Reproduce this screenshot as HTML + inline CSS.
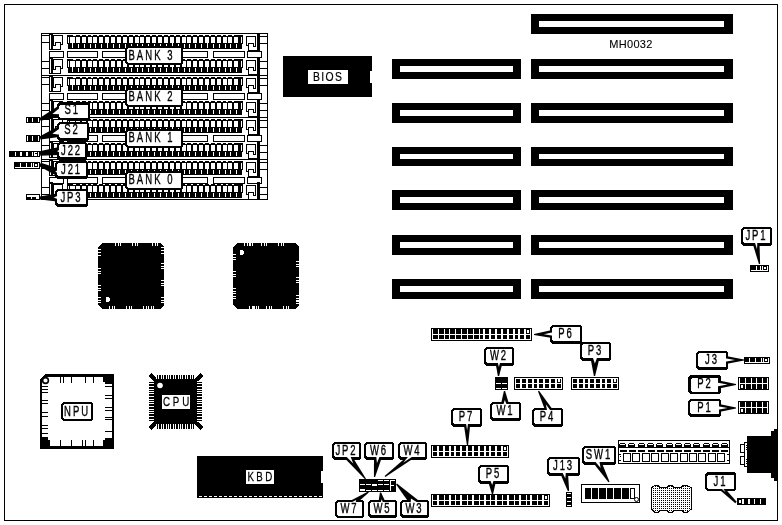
<!DOCTYPE html>
<html><head><meta charset="utf-8"><title>MH0032 motherboard layout</title>
<style>
html,body{margin:0;padding:0;background:#fff;}
body{width:782px;height:525px;overflow:hidden;}
svg{display:block;filter:grayscale(1);}
text{font-family:"Liberation Sans",sans-serif;fill:#000;stroke:#000;}
</style></head><body>
<svg width="782" height="525" viewBox="0 0 782 525" shape-rendering="crispEdges">
<defs><pattern id="dots" x="0" y="0" width="2" height="2" patternUnits="userSpaceOnUse"><rect x="0" y="0" width="2" height="2" fill="#fff"/><rect x="0" y="0" width="1" height="1" fill="#000"/></pattern></defs>
<rect x="0" y="0" width="782" height="525" fill="#fff"/>
<rect x="4" y="4" width="774" height="1" fill="#000"/>
<rect x="4" y="520" width="774" height="1" fill="#000"/>
<rect x="4" y="4" width="1" height="517" fill="#000"/>
<rect x="777" y="4" width="1" height="517" fill="#000"/>
<rect x="41" y="33" width="1" height="167" fill="#000"/>
<rect x="267" y="33" width="1" height="167" fill="#000"/>
<rect x="41" y="33" width="227" height="1" fill="#000"/>
<rect x="41" y="35" width="8" height="1" fill="#000"/>
<rect x="41" y="42" width="8" height="1" fill="#000"/>
<rect x="41" y="61" width="8" height="1" fill="#000"/>
<rect x="41" y="68" width="8" height="1" fill="#000"/>
<rect x="260" y="36" width="8" height="1" fill="#000"/>
<rect x="260" y="43" width="8" height="1" fill="#000"/>
<rect x="260" y="61" width="8" height="1" fill="#000"/>
<rect x="260" y="68" width="8" height="1" fill="#000"/>
<rect x="49" y="33" width="4" height="17" fill="#000"/>
<rect x="50" y="35" width="1" height="14" fill="#fff"/>
<rect x="53" y="35" width="10" height="1" fill="#000"/>
<rect x="62" y="35" width="1" height="10" fill="#000"/>
<rect x="61" y="44" width="2" height="1" fill="#000"/>
<rect x="53" y="35" width="1" height="11" fill="#000"/>
<rect x="55" y="42" width="6" height="1" fill="#000"/>
<rect x="60" y="42" width="1" height="8" fill="#000"/>
<rect x="55" y="42" width="1" height="4" fill="#000"/>
<rect x="53" y="45" width="3" height="1" fill="#000"/>
<rect x="49" y="49" width="12" height="1" fill="#000"/>
<rect x="257" y="33" width="3" height="18" fill="#000"/>
<rect x="246" y="36" width="10" height="1" fill="#000"/>
<rect x="246" y="36" width="1" height="10" fill="#000"/>
<rect x="246" y="45" width="2" height="1" fill="#000"/>
<rect x="255" y="36" width="1" height="11" fill="#000"/>
<rect x="248" y="43" width="6" height="1" fill="#000"/>
<rect x="248" y="43" width="1" height="8" fill="#000"/>
<rect x="253" y="43" width="1" height="4" fill="#000"/>
<rect x="253" y="46" width="3" height="1" fill="#000"/>
<rect x="248" y="50" width="12" height="1" fill="#000"/>
<rect x="67" y="35" width="176" height="14" fill="#000"/>
<rect x="67" y="44" width="1" height="5" fill="#fff"/>
<rect x="242" y="44" width="1" height="5" fill="#fff"/>
<rect x="68" y="37" width="1" height="6" fill="#fff"/>
<rect x="241" y="37" width="1" height="6" fill="#fff"/>
<rect x="70" y="37" width="5" height="6" fill="#fff"/>
<rect x="72" y="43" width="1" height="5" fill="#fff"/>
<rect x="73" y="35" width="1" height="1" fill="#fff"/>
<rect x="76" y="37" width="4" height="6" fill="#fff"/>
<rect x="78" y="44" width="1" height="4" fill="#fff"/>
<rect x="74" y="35" width="2" height="1" fill="#fff"/>
<rect x="82" y="37" width="4" height="6" fill="#fff"/>
<rect x="84" y="44" width="1" height="4" fill="#fff"/>
<rect x="80" y="35" width="2" height="1" fill="#fff"/>
<rect x="88" y="37" width="4" height="6" fill="#fff"/>
<rect x="90" y="44" width="1" height="4" fill="#fff"/>
<rect x="86" y="35" width="2" height="1" fill="#fff"/>
<rect x="93" y="37" width="4" height="6" fill="#fff"/>
<rect x="95" y="44" width="1" height="4" fill="#fff"/>
<rect x="91" y="35" width="2" height="1" fill="#fff"/>
<rect x="99" y="37" width="4" height="6" fill="#fff"/>
<rect x="101" y="44" width="1" height="4" fill="#fff"/>
<rect x="97" y="35" width="2" height="1" fill="#fff"/>
<rect x="105" y="37" width="4" height="6" fill="#fff"/>
<rect x="107" y="43" width="1" height="5" fill="#fff"/>
<rect x="103" y="35" width="2" height="1" fill="#fff"/>
<rect x="111" y="37" width="4" height="6" fill="#fff"/>
<rect x="113" y="44" width="1" height="4" fill="#fff"/>
<rect x="109" y="35" width="2" height="1" fill="#fff"/>
<rect x="117" y="37" width="4" height="6" fill="#fff"/>
<rect x="119" y="44" width="1" height="4" fill="#fff"/>
<rect x="115" y="35" width="2" height="1" fill="#fff"/>
<rect x="123" y="37" width="4" height="6" fill="#fff"/>
<rect x="125" y="44" width="1" height="4" fill="#fff"/>
<rect x="121" y="35" width="2" height="1" fill="#fff"/>
<rect x="129" y="37" width="4" height="6" fill="#fff"/>
<rect x="131" y="44" width="1" height="4" fill="#fff"/>
<rect x="127" y="35" width="2" height="1" fill="#fff"/>
<rect x="135" y="37" width="4" height="6" fill="#fff"/>
<rect x="137" y="44" width="1" height="4" fill="#fff"/>
<rect x="133" y="35" width="2" height="1" fill="#fff"/>
<rect x="140" y="37" width="4" height="6" fill="#fff"/>
<rect x="142" y="44" width="1" height="4" fill="#fff"/>
<rect x="138" y="35" width="2" height="1" fill="#fff"/>
<rect x="146" y="37" width="4" height="6" fill="#fff"/>
<rect x="148" y="44" width="1" height="4" fill="#fff"/>
<rect x="144" y="35" width="2" height="1" fill="#fff"/>
<rect x="152" y="37" width="4" height="6" fill="#fff"/>
<rect x="154" y="44" width="1" height="4" fill="#fff"/>
<rect x="150" y="35" width="2" height="1" fill="#fff"/>
<rect x="158" y="37" width="4" height="6" fill="#fff"/>
<rect x="160" y="44" width="1" height="4" fill="#fff"/>
<rect x="156" y="35" width="2" height="1" fill="#fff"/>
<rect x="164" y="37" width="4" height="6" fill="#fff"/>
<rect x="166" y="44" width="1" height="4" fill="#fff"/>
<rect x="162" y="35" width="2" height="1" fill="#fff"/>
<rect x="170" y="37" width="4" height="6" fill="#fff"/>
<rect x="172" y="43" width="1" height="5" fill="#fff"/>
<rect x="168" y="35" width="2" height="1" fill="#fff"/>
<rect x="176" y="37" width="4" height="6" fill="#fff"/>
<rect x="178" y="44" width="1" height="4" fill="#fff"/>
<rect x="174" y="35" width="2" height="1" fill="#fff"/>
<rect x="182" y="37" width="4" height="6" fill="#fff"/>
<rect x="184" y="44" width="1" height="4" fill="#fff"/>
<rect x="180" y="35" width="2" height="1" fill="#fff"/>
<rect x="187" y="37" width="4" height="6" fill="#fff"/>
<rect x="189" y="44" width="1" height="4" fill="#fff"/>
<rect x="185" y="35" width="2" height="1" fill="#fff"/>
<rect x="193" y="37" width="4" height="6" fill="#fff"/>
<rect x="195" y="44" width="1" height="4" fill="#fff"/>
<rect x="191" y="35" width="2" height="1" fill="#fff"/>
<rect x="199" y="37" width="4" height="6" fill="#fff"/>
<rect x="201" y="44" width="1" height="4" fill="#fff"/>
<rect x="197" y="35" width="2" height="1" fill="#fff"/>
<rect x="205" y="37" width="4" height="6" fill="#fff"/>
<rect x="207" y="43" width="1" height="5" fill="#fff"/>
<rect x="203" y="35" width="2" height="1" fill="#fff"/>
<rect x="211" y="37" width="4" height="6" fill="#fff"/>
<rect x="213" y="44" width="1" height="4" fill="#fff"/>
<rect x="209" y="35" width="2" height="1" fill="#fff"/>
<rect x="217" y="37" width="4" height="6" fill="#fff"/>
<rect x="219" y="44" width="1" height="4" fill="#fff"/>
<rect x="215" y="35" width="2" height="1" fill="#fff"/>
<rect x="223" y="37" width="4" height="6" fill="#fff"/>
<rect x="225" y="44" width="1" height="4" fill="#fff"/>
<rect x="221" y="35" width="2" height="1" fill="#fff"/>
<rect x="228" y="37" width="4" height="6" fill="#fff"/>
<rect x="230" y="44" width="1" height="4" fill="#fff"/>
<rect x="226" y="35" width="2" height="1" fill="#fff"/>
<rect x="234" y="37" width="4" height="6" fill="#fff"/>
<rect x="236" y="44" width="1" height="4" fill="#fff"/>
<rect x="232" y="35" width="2" height="1" fill="#fff"/>
<rect x="49" y="51" width="15" height="1" fill="#000"/>
<rect x="49" y="57" width="15" height="1" fill="#000"/>
<rect x="49" y="51" width="1" height="7" fill="#000"/>
<rect x="63" y="51" width="1" height="7" fill="#000"/>
<rect x="67" y="51" width="31" height="1" fill="#000"/>
<rect x="67" y="57" width="31" height="1" fill="#000"/>
<rect x="67" y="51" width="1" height="7" fill="#000"/>
<rect x="97" y="51" width="1" height="7" fill="#000"/>
<rect x="102" y="51" width="32" height="1" fill="#000"/>
<rect x="102" y="57" width="32" height="1" fill="#000"/>
<rect x="102" y="51" width="1" height="7" fill="#000"/>
<rect x="133" y="51" width="1" height="7" fill="#000"/>
<rect x="176" y="51" width="32" height="1" fill="#000"/>
<rect x="176" y="57" width="32" height="1" fill="#000"/>
<rect x="176" y="51" width="1" height="7" fill="#000"/>
<rect x="207" y="51" width="1" height="7" fill="#000"/>
<rect x="213" y="51" width="32" height="1" fill="#000"/>
<rect x="213" y="57" width="32" height="1" fill="#000"/>
<rect x="213" y="51" width="1" height="7" fill="#000"/>
<rect x="244" y="51" width="1" height="7" fill="#000"/>
<rect x="247" y="51" width="15" height="1" fill="#000"/>
<rect x="247" y="57" width="15" height="1" fill="#000"/>
<rect x="247" y="51" width="1" height="7" fill="#000"/>
<rect x="261" y="51" width="1" height="7" fill="#000"/>
<rect x="49" y="57" width="4" height="17" fill="#000"/>
<rect x="50" y="59" width="1" height="14" fill="#fff"/>
<rect x="53" y="59" width="10" height="1" fill="#000"/>
<rect x="62" y="59" width="1" height="10" fill="#000"/>
<rect x="61" y="68" width="2" height="1" fill="#000"/>
<rect x="53" y="59" width="1" height="11" fill="#000"/>
<rect x="55" y="66" width="6" height="1" fill="#000"/>
<rect x="60" y="66" width="1" height="8" fill="#000"/>
<rect x="55" y="66" width="1" height="4" fill="#000"/>
<rect x="53" y="69" width="3" height="1" fill="#000"/>
<rect x="49" y="73" width="12" height="1" fill="#000"/>
<rect x="257" y="57" width="3" height="18" fill="#000"/>
<rect x="246" y="60" width="10" height="1" fill="#000"/>
<rect x="246" y="60" width="1" height="10" fill="#000"/>
<rect x="246" y="69" width="2" height="1" fill="#000"/>
<rect x="255" y="60" width="1" height="11" fill="#000"/>
<rect x="248" y="67" width="6" height="1" fill="#000"/>
<rect x="248" y="67" width="1" height="8" fill="#000"/>
<rect x="253" y="67" width="1" height="4" fill="#000"/>
<rect x="253" y="70" width="3" height="1" fill="#000"/>
<rect x="248" y="74" width="12" height="1" fill="#000"/>
<rect x="67" y="59" width="176" height="14" fill="#000"/>
<rect x="67" y="68" width="1" height="5" fill="#fff"/>
<rect x="242" y="68" width="1" height="5" fill="#fff"/>
<rect x="68" y="61" width="1" height="6" fill="#fff"/>
<rect x="241" y="61" width="1" height="6" fill="#fff"/>
<rect x="70" y="61" width="5" height="6" fill="#fff"/>
<rect x="72" y="67" width="1" height="5" fill="#fff"/>
<rect x="73" y="59" width="1" height="1" fill="#fff"/>
<rect x="76" y="61" width="4" height="6" fill="#fff"/>
<rect x="78" y="68" width="1" height="4" fill="#fff"/>
<rect x="74" y="59" width="2" height="1" fill="#fff"/>
<rect x="82" y="61" width="4" height="6" fill="#fff"/>
<rect x="84" y="68" width="1" height="4" fill="#fff"/>
<rect x="80" y="59" width="2" height="1" fill="#fff"/>
<rect x="88" y="61" width="4" height="6" fill="#fff"/>
<rect x="90" y="68" width="1" height="4" fill="#fff"/>
<rect x="86" y="59" width="2" height="1" fill="#fff"/>
<rect x="93" y="61" width="4" height="6" fill="#fff"/>
<rect x="95" y="68" width="1" height="4" fill="#fff"/>
<rect x="91" y="59" width="2" height="1" fill="#fff"/>
<rect x="99" y="61" width="4" height="6" fill="#fff"/>
<rect x="101" y="68" width="1" height="4" fill="#fff"/>
<rect x="97" y="59" width="2" height="1" fill="#fff"/>
<rect x="105" y="61" width="4" height="6" fill="#fff"/>
<rect x="107" y="67" width="1" height="5" fill="#fff"/>
<rect x="103" y="59" width="2" height="1" fill="#fff"/>
<rect x="111" y="61" width="4" height="6" fill="#fff"/>
<rect x="113" y="68" width="1" height="4" fill="#fff"/>
<rect x="109" y="59" width="2" height="1" fill="#fff"/>
<rect x="117" y="61" width="4" height="6" fill="#fff"/>
<rect x="119" y="68" width="1" height="4" fill="#fff"/>
<rect x="115" y="59" width="2" height="1" fill="#fff"/>
<rect x="123" y="61" width="4" height="6" fill="#fff"/>
<rect x="125" y="68" width="1" height="4" fill="#fff"/>
<rect x="121" y="59" width="2" height="1" fill="#fff"/>
<rect x="129" y="61" width="4" height="6" fill="#fff"/>
<rect x="131" y="68" width="1" height="4" fill="#fff"/>
<rect x="127" y="59" width="2" height="1" fill="#fff"/>
<rect x="135" y="61" width="4" height="6" fill="#fff"/>
<rect x="137" y="68" width="1" height="4" fill="#fff"/>
<rect x="133" y="59" width="2" height="1" fill="#fff"/>
<rect x="140" y="61" width="4" height="6" fill="#fff"/>
<rect x="142" y="68" width="1" height="4" fill="#fff"/>
<rect x="138" y="59" width="2" height="1" fill="#fff"/>
<rect x="146" y="61" width="4" height="6" fill="#fff"/>
<rect x="148" y="68" width="1" height="4" fill="#fff"/>
<rect x="144" y="59" width="2" height="1" fill="#fff"/>
<rect x="152" y="61" width="4" height="6" fill="#fff"/>
<rect x="154" y="68" width="1" height="4" fill="#fff"/>
<rect x="150" y="59" width="2" height="1" fill="#fff"/>
<rect x="158" y="61" width="4" height="6" fill="#fff"/>
<rect x="160" y="68" width="1" height="4" fill="#fff"/>
<rect x="156" y="59" width="2" height="1" fill="#fff"/>
<rect x="164" y="61" width="4" height="6" fill="#fff"/>
<rect x="166" y="68" width="1" height="4" fill="#fff"/>
<rect x="162" y="59" width="2" height="1" fill="#fff"/>
<rect x="170" y="61" width="4" height="6" fill="#fff"/>
<rect x="172" y="67" width="1" height="5" fill="#fff"/>
<rect x="168" y="59" width="2" height="1" fill="#fff"/>
<rect x="176" y="61" width="4" height="6" fill="#fff"/>
<rect x="178" y="68" width="1" height="4" fill="#fff"/>
<rect x="174" y="59" width="2" height="1" fill="#fff"/>
<rect x="182" y="61" width="4" height="6" fill="#fff"/>
<rect x="184" y="68" width="1" height="4" fill="#fff"/>
<rect x="180" y="59" width="2" height="1" fill="#fff"/>
<rect x="187" y="61" width="4" height="6" fill="#fff"/>
<rect x="189" y="68" width="1" height="4" fill="#fff"/>
<rect x="185" y="59" width="2" height="1" fill="#fff"/>
<rect x="193" y="61" width="4" height="6" fill="#fff"/>
<rect x="195" y="68" width="1" height="4" fill="#fff"/>
<rect x="191" y="59" width="2" height="1" fill="#fff"/>
<rect x="199" y="61" width="4" height="6" fill="#fff"/>
<rect x="201" y="68" width="1" height="4" fill="#fff"/>
<rect x="197" y="59" width="2" height="1" fill="#fff"/>
<rect x="205" y="61" width="4" height="6" fill="#fff"/>
<rect x="207" y="67" width="1" height="5" fill="#fff"/>
<rect x="203" y="59" width="2" height="1" fill="#fff"/>
<rect x="211" y="61" width="4" height="6" fill="#fff"/>
<rect x="213" y="68" width="1" height="4" fill="#fff"/>
<rect x="209" y="59" width="2" height="1" fill="#fff"/>
<rect x="217" y="61" width="4" height="6" fill="#fff"/>
<rect x="219" y="68" width="1" height="4" fill="#fff"/>
<rect x="215" y="59" width="2" height="1" fill="#fff"/>
<rect x="223" y="61" width="4" height="6" fill="#fff"/>
<rect x="225" y="68" width="1" height="4" fill="#fff"/>
<rect x="221" y="59" width="2" height="1" fill="#fff"/>
<rect x="228" y="61" width="4" height="6" fill="#fff"/>
<rect x="230" y="68" width="1" height="4" fill="#fff"/>
<rect x="226" y="59" width="2" height="1" fill="#fff"/>
<rect x="234" y="61" width="4" height="6" fill="#fff"/>
<rect x="236" y="68" width="1" height="4" fill="#fff"/>
<rect x="232" y="59" width="2" height="1" fill="#fff"/>
<rect x="41" y="75" width="227" height="1" fill="#000"/>
<rect x="41" y="77" width="8" height="1" fill="#000"/>
<rect x="41" y="84" width="8" height="1" fill="#000"/>
<rect x="41" y="103" width="8" height="1" fill="#000"/>
<rect x="41" y="110" width="8" height="1" fill="#000"/>
<rect x="260" y="78" width="8" height="1" fill="#000"/>
<rect x="260" y="85" width="8" height="1" fill="#000"/>
<rect x="260" y="103" width="8" height="1" fill="#000"/>
<rect x="260" y="110" width="8" height="1" fill="#000"/>
<rect x="49" y="75" width="4" height="17" fill="#000"/>
<rect x="50" y="77" width="1" height="14" fill="#fff"/>
<rect x="53" y="77" width="10" height="1" fill="#000"/>
<rect x="62" y="77" width="1" height="10" fill="#000"/>
<rect x="61" y="86" width="2" height="1" fill="#000"/>
<rect x="53" y="77" width="1" height="11" fill="#000"/>
<rect x="55" y="84" width="6" height="1" fill="#000"/>
<rect x="60" y="84" width="1" height="8" fill="#000"/>
<rect x="55" y="84" width="1" height="4" fill="#000"/>
<rect x="53" y="87" width="3" height="1" fill="#000"/>
<rect x="49" y="91" width="12" height="1" fill="#000"/>
<rect x="257" y="75" width="3" height="18" fill="#000"/>
<rect x="246" y="78" width="10" height="1" fill="#000"/>
<rect x="246" y="78" width="1" height="10" fill="#000"/>
<rect x="246" y="87" width="2" height="1" fill="#000"/>
<rect x="255" y="78" width="1" height="11" fill="#000"/>
<rect x="248" y="85" width="6" height="1" fill="#000"/>
<rect x="248" y="85" width="1" height="8" fill="#000"/>
<rect x="253" y="85" width="1" height="4" fill="#000"/>
<rect x="253" y="88" width="3" height="1" fill="#000"/>
<rect x="248" y="92" width="12" height="1" fill="#000"/>
<rect x="67" y="77" width="176" height="14" fill="#000"/>
<rect x="67" y="86" width="1" height="5" fill="#fff"/>
<rect x="242" y="86" width="1" height="5" fill="#fff"/>
<rect x="68" y="79" width="1" height="6" fill="#fff"/>
<rect x="241" y="79" width="1" height="6" fill="#fff"/>
<rect x="70" y="79" width="5" height="6" fill="#fff"/>
<rect x="72" y="85" width="1" height="5" fill="#fff"/>
<rect x="73" y="77" width="1" height="1" fill="#fff"/>
<rect x="76" y="79" width="4" height="6" fill="#fff"/>
<rect x="78" y="86" width="1" height="4" fill="#fff"/>
<rect x="74" y="77" width="2" height="1" fill="#fff"/>
<rect x="82" y="79" width="4" height="6" fill="#fff"/>
<rect x="84" y="86" width="1" height="4" fill="#fff"/>
<rect x="80" y="77" width="2" height="1" fill="#fff"/>
<rect x="88" y="79" width="4" height="6" fill="#fff"/>
<rect x="90" y="86" width="1" height="4" fill="#fff"/>
<rect x="86" y="77" width="2" height="1" fill="#fff"/>
<rect x="93" y="79" width="4" height="6" fill="#fff"/>
<rect x="95" y="86" width="1" height="4" fill="#fff"/>
<rect x="91" y="77" width="2" height="1" fill="#fff"/>
<rect x="99" y="79" width="4" height="6" fill="#fff"/>
<rect x="101" y="86" width="1" height="4" fill="#fff"/>
<rect x="97" y="77" width="2" height="1" fill="#fff"/>
<rect x="105" y="79" width="4" height="6" fill="#fff"/>
<rect x="107" y="85" width="1" height="5" fill="#fff"/>
<rect x="103" y="77" width="2" height="1" fill="#fff"/>
<rect x="111" y="79" width="4" height="6" fill="#fff"/>
<rect x="113" y="86" width="1" height="4" fill="#fff"/>
<rect x="109" y="77" width="2" height="1" fill="#fff"/>
<rect x="117" y="79" width="4" height="6" fill="#fff"/>
<rect x="119" y="86" width="1" height="4" fill="#fff"/>
<rect x="115" y="77" width="2" height="1" fill="#fff"/>
<rect x="123" y="79" width="4" height="6" fill="#fff"/>
<rect x="125" y="86" width="1" height="4" fill="#fff"/>
<rect x="121" y="77" width="2" height="1" fill="#fff"/>
<rect x="129" y="79" width="4" height="6" fill="#fff"/>
<rect x="131" y="86" width="1" height="4" fill="#fff"/>
<rect x="127" y="77" width="2" height="1" fill="#fff"/>
<rect x="135" y="79" width="4" height="6" fill="#fff"/>
<rect x="137" y="86" width="1" height="4" fill="#fff"/>
<rect x="133" y="77" width="2" height="1" fill="#fff"/>
<rect x="140" y="79" width="4" height="6" fill="#fff"/>
<rect x="142" y="86" width="1" height="4" fill="#fff"/>
<rect x="138" y="77" width="2" height="1" fill="#fff"/>
<rect x="146" y="79" width="4" height="6" fill="#fff"/>
<rect x="148" y="86" width="1" height="4" fill="#fff"/>
<rect x="144" y="77" width="2" height="1" fill="#fff"/>
<rect x="152" y="79" width="4" height="6" fill="#fff"/>
<rect x="154" y="86" width="1" height="4" fill="#fff"/>
<rect x="150" y="77" width="2" height="1" fill="#fff"/>
<rect x="158" y="79" width="4" height="6" fill="#fff"/>
<rect x="160" y="86" width="1" height="4" fill="#fff"/>
<rect x="156" y="77" width="2" height="1" fill="#fff"/>
<rect x="164" y="79" width="4" height="6" fill="#fff"/>
<rect x="166" y="86" width="1" height="4" fill="#fff"/>
<rect x="162" y="77" width="2" height="1" fill="#fff"/>
<rect x="170" y="79" width="4" height="6" fill="#fff"/>
<rect x="172" y="85" width="1" height="5" fill="#fff"/>
<rect x="168" y="77" width="2" height="1" fill="#fff"/>
<rect x="176" y="79" width="4" height="6" fill="#fff"/>
<rect x="178" y="86" width="1" height="4" fill="#fff"/>
<rect x="174" y="77" width="2" height="1" fill="#fff"/>
<rect x="182" y="79" width="4" height="6" fill="#fff"/>
<rect x="184" y="86" width="1" height="4" fill="#fff"/>
<rect x="180" y="77" width="2" height="1" fill="#fff"/>
<rect x="187" y="79" width="4" height="6" fill="#fff"/>
<rect x="189" y="86" width="1" height="4" fill="#fff"/>
<rect x="185" y="77" width="2" height="1" fill="#fff"/>
<rect x="193" y="79" width="4" height="6" fill="#fff"/>
<rect x="195" y="86" width="1" height="4" fill="#fff"/>
<rect x="191" y="77" width="2" height="1" fill="#fff"/>
<rect x="199" y="79" width="4" height="6" fill="#fff"/>
<rect x="201" y="86" width="1" height="4" fill="#fff"/>
<rect x="197" y="77" width="2" height="1" fill="#fff"/>
<rect x="205" y="79" width="4" height="6" fill="#fff"/>
<rect x="207" y="85" width="1" height="5" fill="#fff"/>
<rect x="203" y="77" width="2" height="1" fill="#fff"/>
<rect x="211" y="79" width="4" height="6" fill="#fff"/>
<rect x="213" y="86" width="1" height="4" fill="#fff"/>
<rect x="209" y="77" width="2" height="1" fill="#fff"/>
<rect x="217" y="79" width="4" height="6" fill="#fff"/>
<rect x="219" y="86" width="1" height="4" fill="#fff"/>
<rect x="215" y="77" width="2" height="1" fill="#fff"/>
<rect x="223" y="79" width="4" height="6" fill="#fff"/>
<rect x="225" y="86" width="1" height="4" fill="#fff"/>
<rect x="221" y="77" width="2" height="1" fill="#fff"/>
<rect x="228" y="79" width="4" height="6" fill="#fff"/>
<rect x="230" y="86" width="1" height="4" fill="#fff"/>
<rect x="226" y="77" width="2" height="1" fill="#fff"/>
<rect x="234" y="79" width="4" height="6" fill="#fff"/>
<rect x="236" y="86" width="1" height="4" fill="#fff"/>
<rect x="232" y="77" width="2" height="1" fill="#fff"/>
<rect x="49" y="93" width="15" height="1" fill="#000"/>
<rect x="49" y="99" width="15" height="1" fill="#000"/>
<rect x="49" y="93" width="1" height="7" fill="#000"/>
<rect x="63" y="93" width="1" height="7" fill="#000"/>
<rect x="67" y="93" width="31" height="1" fill="#000"/>
<rect x="67" y="99" width="31" height="1" fill="#000"/>
<rect x="67" y="93" width="1" height="7" fill="#000"/>
<rect x="97" y="93" width="1" height="7" fill="#000"/>
<rect x="102" y="93" width="32" height="1" fill="#000"/>
<rect x="102" y="99" width="32" height="1" fill="#000"/>
<rect x="102" y="93" width="1" height="7" fill="#000"/>
<rect x="133" y="93" width="1" height="7" fill="#000"/>
<rect x="176" y="93" width="32" height="1" fill="#000"/>
<rect x="176" y="99" width="32" height="1" fill="#000"/>
<rect x="176" y="93" width="1" height="7" fill="#000"/>
<rect x="207" y="93" width="1" height="7" fill="#000"/>
<rect x="213" y="93" width="32" height="1" fill="#000"/>
<rect x="213" y="99" width="32" height="1" fill="#000"/>
<rect x="213" y="93" width="1" height="7" fill="#000"/>
<rect x="244" y="93" width="1" height="7" fill="#000"/>
<rect x="247" y="93" width="15" height="1" fill="#000"/>
<rect x="247" y="99" width="15" height="1" fill="#000"/>
<rect x="247" y="93" width="1" height="7" fill="#000"/>
<rect x="261" y="93" width="1" height="7" fill="#000"/>
<rect x="49" y="99" width="4" height="17" fill="#000"/>
<rect x="50" y="101" width="1" height="14" fill="#fff"/>
<rect x="53" y="101" width="10" height="1" fill="#000"/>
<rect x="62" y="101" width="1" height="10" fill="#000"/>
<rect x="61" y="110" width="2" height="1" fill="#000"/>
<rect x="53" y="101" width="1" height="11" fill="#000"/>
<rect x="55" y="108" width="6" height="1" fill="#000"/>
<rect x="60" y="108" width="1" height="8" fill="#000"/>
<rect x="55" y="108" width="1" height="4" fill="#000"/>
<rect x="53" y="111" width="3" height="1" fill="#000"/>
<rect x="49" y="115" width="12" height="1" fill="#000"/>
<rect x="257" y="99" width="3" height="18" fill="#000"/>
<rect x="246" y="102" width="10" height="1" fill="#000"/>
<rect x="246" y="102" width="1" height="10" fill="#000"/>
<rect x="246" y="111" width="2" height="1" fill="#000"/>
<rect x="255" y="102" width="1" height="11" fill="#000"/>
<rect x="248" y="109" width="6" height="1" fill="#000"/>
<rect x="248" y="109" width="1" height="8" fill="#000"/>
<rect x="253" y="109" width="1" height="4" fill="#000"/>
<rect x="253" y="112" width="3" height="1" fill="#000"/>
<rect x="248" y="116" width="12" height="1" fill="#000"/>
<rect x="67" y="101" width="176" height="14" fill="#000"/>
<rect x="67" y="110" width="1" height="5" fill="#fff"/>
<rect x="242" y="110" width="1" height="5" fill="#fff"/>
<rect x="68" y="103" width="1" height="6" fill="#fff"/>
<rect x="241" y="103" width="1" height="6" fill="#fff"/>
<rect x="70" y="103" width="5" height="6" fill="#fff"/>
<rect x="72" y="109" width="1" height="5" fill="#fff"/>
<rect x="73" y="101" width="1" height="1" fill="#fff"/>
<rect x="76" y="103" width="4" height="6" fill="#fff"/>
<rect x="78" y="110" width="1" height="4" fill="#fff"/>
<rect x="74" y="101" width="2" height="1" fill="#fff"/>
<rect x="82" y="103" width="4" height="6" fill="#fff"/>
<rect x="84" y="110" width="1" height="4" fill="#fff"/>
<rect x="80" y="101" width="2" height="1" fill="#fff"/>
<rect x="88" y="103" width="4" height="6" fill="#fff"/>
<rect x="90" y="110" width="1" height="4" fill="#fff"/>
<rect x="86" y="101" width="2" height="1" fill="#fff"/>
<rect x="93" y="103" width="4" height="6" fill="#fff"/>
<rect x="95" y="110" width="1" height="4" fill="#fff"/>
<rect x="91" y="101" width="2" height="1" fill="#fff"/>
<rect x="99" y="103" width="4" height="6" fill="#fff"/>
<rect x="101" y="110" width="1" height="4" fill="#fff"/>
<rect x="97" y="101" width="2" height="1" fill="#fff"/>
<rect x="105" y="103" width="4" height="6" fill="#fff"/>
<rect x="107" y="109" width="1" height="5" fill="#fff"/>
<rect x="103" y="101" width="2" height="1" fill="#fff"/>
<rect x="111" y="103" width="4" height="6" fill="#fff"/>
<rect x="113" y="110" width="1" height="4" fill="#fff"/>
<rect x="109" y="101" width="2" height="1" fill="#fff"/>
<rect x="117" y="103" width="4" height="6" fill="#fff"/>
<rect x="119" y="110" width="1" height="4" fill="#fff"/>
<rect x="115" y="101" width="2" height="1" fill="#fff"/>
<rect x="123" y="103" width="4" height="6" fill="#fff"/>
<rect x="125" y="110" width="1" height="4" fill="#fff"/>
<rect x="121" y="101" width="2" height="1" fill="#fff"/>
<rect x="129" y="103" width="4" height="6" fill="#fff"/>
<rect x="131" y="110" width="1" height="4" fill="#fff"/>
<rect x="127" y="101" width="2" height="1" fill="#fff"/>
<rect x="135" y="103" width="4" height="6" fill="#fff"/>
<rect x="137" y="110" width="1" height="4" fill="#fff"/>
<rect x="133" y="101" width="2" height="1" fill="#fff"/>
<rect x="140" y="103" width="4" height="6" fill="#fff"/>
<rect x="142" y="110" width="1" height="4" fill="#fff"/>
<rect x="138" y="101" width="2" height="1" fill="#fff"/>
<rect x="146" y="103" width="4" height="6" fill="#fff"/>
<rect x="148" y="110" width="1" height="4" fill="#fff"/>
<rect x="144" y="101" width="2" height="1" fill="#fff"/>
<rect x="152" y="103" width="4" height="6" fill="#fff"/>
<rect x="154" y="110" width="1" height="4" fill="#fff"/>
<rect x="150" y="101" width="2" height="1" fill="#fff"/>
<rect x="158" y="103" width="4" height="6" fill="#fff"/>
<rect x="160" y="110" width="1" height="4" fill="#fff"/>
<rect x="156" y="101" width="2" height="1" fill="#fff"/>
<rect x="164" y="103" width="4" height="6" fill="#fff"/>
<rect x="166" y="110" width="1" height="4" fill="#fff"/>
<rect x="162" y="101" width="2" height="1" fill="#fff"/>
<rect x="170" y="103" width="4" height="6" fill="#fff"/>
<rect x="172" y="109" width="1" height="5" fill="#fff"/>
<rect x="168" y="101" width="2" height="1" fill="#fff"/>
<rect x="176" y="103" width="4" height="6" fill="#fff"/>
<rect x="178" y="110" width="1" height="4" fill="#fff"/>
<rect x="174" y="101" width="2" height="1" fill="#fff"/>
<rect x="182" y="103" width="4" height="6" fill="#fff"/>
<rect x="184" y="110" width="1" height="4" fill="#fff"/>
<rect x="180" y="101" width="2" height="1" fill="#fff"/>
<rect x="187" y="103" width="4" height="6" fill="#fff"/>
<rect x="189" y="110" width="1" height="4" fill="#fff"/>
<rect x="185" y="101" width="2" height="1" fill="#fff"/>
<rect x="193" y="103" width="4" height="6" fill="#fff"/>
<rect x="195" y="110" width="1" height="4" fill="#fff"/>
<rect x="191" y="101" width="2" height="1" fill="#fff"/>
<rect x="199" y="103" width="4" height="6" fill="#fff"/>
<rect x="201" y="110" width="1" height="4" fill="#fff"/>
<rect x="197" y="101" width="2" height="1" fill="#fff"/>
<rect x="205" y="103" width="4" height="6" fill="#fff"/>
<rect x="207" y="109" width="1" height="5" fill="#fff"/>
<rect x="203" y="101" width="2" height="1" fill="#fff"/>
<rect x="211" y="103" width="4" height="6" fill="#fff"/>
<rect x="213" y="110" width="1" height="4" fill="#fff"/>
<rect x="209" y="101" width="2" height="1" fill="#fff"/>
<rect x="217" y="103" width="4" height="6" fill="#fff"/>
<rect x="219" y="110" width="1" height="4" fill="#fff"/>
<rect x="215" y="101" width="2" height="1" fill="#fff"/>
<rect x="223" y="103" width="4" height="6" fill="#fff"/>
<rect x="225" y="110" width="1" height="4" fill="#fff"/>
<rect x="221" y="101" width="2" height="1" fill="#fff"/>
<rect x="228" y="103" width="4" height="6" fill="#fff"/>
<rect x="230" y="110" width="1" height="4" fill="#fff"/>
<rect x="226" y="101" width="2" height="1" fill="#fff"/>
<rect x="234" y="103" width="4" height="6" fill="#fff"/>
<rect x="236" y="110" width="1" height="4" fill="#fff"/>
<rect x="232" y="101" width="2" height="1" fill="#fff"/>
<rect x="41" y="117" width="227" height="1" fill="#000"/>
<rect x="41" y="119" width="8" height="1" fill="#000"/>
<rect x="41" y="126" width="8" height="1" fill="#000"/>
<rect x="41" y="145" width="8" height="1" fill="#000"/>
<rect x="41" y="152" width="8" height="1" fill="#000"/>
<rect x="260" y="120" width="8" height="1" fill="#000"/>
<rect x="260" y="127" width="8" height="1" fill="#000"/>
<rect x="260" y="145" width="8" height="1" fill="#000"/>
<rect x="260" y="152" width="8" height="1" fill="#000"/>
<rect x="49" y="117" width="4" height="17" fill="#000"/>
<rect x="50" y="119" width="1" height="14" fill="#fff"/>
<rect x="53" y="119" width="10" height="1" fill="#000"/>
<rect x="62" y="119" width="1" height="10" fill="#000"/>
<rect x="61" y="128" width="2" height="1" fill="#000"/>
<rect x="53" y="119" width="1" height="11" fill="#000"/>
<rect x="55" y="126" width="6" height="1" fill="#000"/>
<rect x="60" y="126" width="1" height="8" fill="#000"/>
<rect x="55" y="126" width="1" height="4" fill="#000"/>
<rect x="53" y="129" width="3" height="1" fill="#000"/>
<rect x="49" y="133" width="12" height="1" fill="#000"/>
<rect x="257" y="117" width="3" height="18" fill="#000"/>
<rect x="246" y="120" width="10" height="1" fill="#000"/>
<rect x="246" y="120" width="1" height="10" fill="#000"/>
<rect x="246" y="129" width="2" height="1" fill="#000"/>
<rect x="255" y="120" width="1" height="11" fill="#000"/>
<rect x="248" y="127" width="6" height="1" fill="#000"/>
<rect x="248" y="127" width="1" height="8" fill="#000"/>
<rect x="253" y="127" width="1" height="4" fill="#000"/>
<rect x="253" y="130" width="3" height="1" fill="#000"/>
<rect x="248" y="134" width="12" height="1" fill="#000"/>
<rect x="67" y="119" width="176" height="14" fill="#000"/>
<rect x="67" y="128" width="1" height="5" fill="#fff"/>
<rect x="242" y="128" width="1" height="5" fill="#fff"/>
<rect x="68" y="121" width="1" height="6" fill="#fff"/>
<rect x="241" y="121" width="1" height="6" fill="#fff"/>
<rect x="70" y="121" width="5" height="6" fill="#fff"/>
<rect x="72" y="127" width="1" height="5" fill="#fff"/>
<rect x="73" y="119" width="1" height="1" fill="#fff"/>
<rect x="76" y="121" width="4" height="6" fill="#fff"/>
<rect x="78" y="128" width="1" height="4" fill="#fff"/>
<rect x="74" y="119" width="2" height="1" fill="#fff"/>
<rect x="82" y="121" width="4" height="6" fill="#fff"/>
<rect x="84" y="128" width="1" height="4" fill="#fff"/>
<rect x="80" y="119" width="2" height="1" fill="#fff"/>
<rect x="88" y="121" width="4" height="6" fill="#fff"/>
<rect x="90" y="128" width="1" height="4" fill="#fff"/>
<rect x="86" y="119" width="2" height="1" fill="#fff"/>
<rect x="93" y="121" width="4" height="6" fill="#fff"/>
<rect x="95" y="128" width="1" height="4" fill="#fff"/>
<rect x="91" y="119" width="2" height="1" fill="#fff"/>
<rect x="99" y="121" width="4" height="6" fill="#fff"/>
<rect x="101" y="128" width="1" height="4" fill="#fff"/>
<rect x="97" y="119" width="2" height="1" fill="#fff"/>
<rect x="105" y="121" width="4" height="6" fill="#fff"/>
<rect x="107" y="127" width="1" height="5" fill="#fff"/>
<rect x="103" y="119" width="2" height="1" fill="#fff"/>
<rect x="111" y="121" width="4" height="6" fill="#fff"/>
<rect x="113" y="128" width="1" height="4" fill="#fff"/>
<rect x="109" y="119" width="2" height="1" fill="#fff"/>
<rect x="117" y="121" width="4" height="6" fill="#fff"/>
<rect x="119" y="128" width="1" height="4" fill="#fff"/>
<rect x="115" y="119" width="2" height="1" fill="#fff"/>
<rect x="123" y="121" width="4" height="6" fill="#fff"/>
<rect x="125" y="128" width="1" height="4" fill="#fff"/>
<rect x="121" y="119" width="2" height="1" fill="#fff"/>
<rect x="129" y="121" width="4" height="6" fill="#fff"/>
<rect x="131" y="128" width="1" height="4" fill="#fff"/>
<rect x="127" y="119" width="2" height="1" fill="#fff"/>
<rect x="135" y="121" width="4" height="6" fill="#fff"/>
<rect x="137" y="128" width="1" height="4" fill="#fff"/>
<rect x="133" y="119" width="2" height="1" fill="#fff"/>
<rect x="140" y="121" width="4" height="6" fill="#fff"/>
<rect x="142" y="128" width="1" height="4" fill="#fff"/>
<rect x="138" y="119" width="2" height="1" fill="#fff"/>
<rect x="146" y="121" width="4" height="6" fill="#fff"/>
<rect x="148" y="128" width="1" height="4" fill="#fff"/>
<rect x="144" y="119" width="2" height="1" fill="#fff"/>
<rect x="152" y="121" width="4" height="6" fill="#fff"/>
<rect x="154" y="128" width="1" height="4" fill="#fff"/>
<rect x="150" y="119" width="2" height="1" fill="#fff"/>
<rect x="158" y="121" width="4" height="6" fill="#fff"/>
<rect x="160" y="128" width="1" height="4" fill="#fff"/>
<rect x="156" y="119" width="2" height="1" fill="#fff"/>
<rect x="164" y="121" width="4" height="6" fill="#fff"/>
<rect x="166" y="128" width="1" height="4" fill="#fff"/>
<rect x="162" y="119" width="2" height="1" fill="#fff"/>
<rect x="170" y="121" width="4" height="6" fill="#fff"/>
<rect x="172" y="127" width="1" height="5" fill="#fff"/>
<rect x="168" y="119" width="2" height="1" fill="#fff"/>
<rect x="176" y="121" width="4" height="6" fill="#fff"/>
<rect x="178" y="128" width="1" height="4" fill="#fff"/>
<rect x="174" y="119" width="2" height="1" fill="#fff"/>
<rect x="182" y="121" width="4" height="6" fill="#fff"/>
<rect x="184" y="128" width="1" height="4" fill="#fff"/>
<rect x="180" y="119" width="2" height="1" fill="#fff"/>
<rect x="187" y="121" width="4" height="6" fill="#fff"/>
<rect x="189" y="128" width="1" height="4" fill="#fff"/>
<rect x="185" y="119" width="2" height="1" fill="#fff"/>
<rect x="193" y="121" width="4" height="6" fill="#fff"/>
<rect x="195" y="128" width="1" height="4" fill="#fff"/>
<rect x="191" y="119" width="2" height="1" fill="#fff"/>
<rect x="199" y="121" width="4" height="6" fill="#fff"/>
<rect x="201" y="128" width="1" height="4" fill="#fff"/>
<rect x="197" y="119" width="2" height="1" fill="#fff"/>
<rect x="205" y="121" width="4" height="6" fill="#fff"/>
<rect x="207" y="127" width="1" height="5" fill="#fff"/>
<rect x="203" y="119" width="2" height="1" fill="#fff"/>
<rect x="211" y="121" width="4" height="6" fill="#fff"/>
<rect x="213" y="128" width="1" height="4" fill="#fff"/>
<rect x="209" y="119" width="2" height="1" fill="#fff"/>
<rect x="217" y="121" width="4" height="6" fill="#fff"/>
<rect x="219" y="128" width="1" height="4" fill="#fff"/>
<rect x="215" y="119" width="2" height="1" fill="#fff"/>
<rect x="223" y="121" width="4" height="6" fill="#fff"/>
<rect x="225" y="128" width="1" height="4" fill="#fff"/>
<rect x="221" y="119" width="2" height="1" fill="#fff"/>
<rect x="228" y="121" width="4" height="6" fill="#fff"/>
<rect x="230" y="128" width="1" height="4" fill="#fff"/>
<rect x="226" y="119" width="2" height="1" fill="#fff"/>
<rect x="234" y="121" width="4" height="6" fill="#fff"/>
<rect x="236" y="128" width="1" height="4" fill="#fff"/>
<rect x="232" y="119" width="2" height="1" fill="#fff"/>
<rect x="49" y="135" width="15" height="1" fill="#000"/>
<rect x="49" y="141" width="15" height="1" fill="#000"/>
<rect x="49" y="135" width="1" height="7" fill="#000"/>
<rect x="63" y="135" width="1" height="7" fill="#000"/>
<rect x="67" y="135" width="31" height="1" fill="#000"/>
<rect x="67" y="141" width="31" height="1" fill="#000"/>
<rect x="67" y="135" width="1" height="7" fill="#000"/>
<rect x="97" y="135" width="1" height="7" fill="#000"/>
<rect x="102" y="135" width="32" height="1" fill="#000"/>
<rect x="102" y="141" width="32" height="1" fill="#000"/>
<rect x="102" y="135" width="1" height="7" fill="#000"/>
<rect x="133" y="135" width="1" height="7" fill="#000"/>
<rect x="176" y="135" width="32" height="1" fill="#000"/>
<rect x="176" y="141" width="32" height="1" fill="#000"/>
<rect x="176" y="135" width="1" height="7" fill="#000"/>
<rect x="207" y="135" width="1" height="7" fill="#000"/>
<rect x="213" y="135" width="32" height="1" fill="#000"/>
<rect x="213" y="141" width="32" height="1" fill="#000"/>
<rect x="213" y="135" width="1" height="7" fill="#000"/>
<rect x="244" y="135" width="1" height="7" fill="#000"/>
<rect x="247" y="135" width="15" height="1" fill="#000"/>
<rect x="247" y="141" width="15" height="1" fill="#000"/>
<rect x="247" y="135" width="1" height="7" fill="#000"/>
<rect x="261" y="135" width="1" height="7" fill="#000"/>
<rect x="49" y="141" width="4" height="17" fill="#000"/>
<rect x="50" y="143" width="1" height="14" fill="#fff"/>
<rect x="53" y="143" width="10" height="1" fill="#000"/>
<rect x="62" y="143" width="1" height="10" fill="#000"/>
<rect x="61" y="152" width="2" height="1" fill="#000"/>
<rect x="53" y="143" width="1" height="11" fill="#000"/>
<rect x="55" y="150" width="6" height="1" fill="#000"/>
<rect x="60" y="150" width="1" height="8" fill="#000"/>
<rect x="55" y="150" width="1" height="4" fill="#000"/>
<rect x="53" y="153" width="3" height="1" fill="#000"/>
<rect x="49" y="157" width="12" height="1" fill="#000"/>
<rect x="257" y="141" width="3" height="18" fill="#000"/>
<rect x="246" y="144" width="10" height="1" fill="#000"/>
<rect x="246" y="144" width="1" height="10" fill="#000"/>
<rect x="246" y="153" width="2" height="1" fill="#000"/>
<rect x="255" y="144" width="1" height="11" fill="#000"/>
<rect x="248" y="151" width="6" height="1" fill="#000"/>
<rect x="248" y="151" width="1" height="8" fill="#000"/>
<rect x="253" y="151" width="1" height="4" fill="#000"/>
<rect x="253" y="154" width="3" height="1" fill="#000"/>
<rect x="248" y="158" width="12" height="1" fill="#000"/>
<rect x="67" y="143" width="176" height="14" fill="#000"/>
<rect x="67" y="152" width="1" height="5" fill="#fff"/>
<rect x="242" y="152" width="1" height="5" fill="#fff"/>
<rect x="68" y="145" width="1" height="6" fill="#fff"/>
<rect x="241" y="145" width="1" height="6" fill="#fff"/>
<rect x="70" y="145" width="5" height="6" fill="#fff"/>
<rect x="72" y="151" width="1" height="5" fill="#fff"/>
<rect x="73" y="143" width="1" height="1" fill="#fff"/>
<rect x="76" y="145" width="4" height="6" fill="#fff"/>
<rect x="78" y="152" width="1" height="4" fill="#fff"/>
<rect x="74" y="143" width="2" height="1" fill="#fff"/>
<rect x="82" y="145" width="4" height="6" fill="#fff"/>
<rect x="84" y="152" width="1" height="4" fill="#fff"/>
<rect x="80" y="143" width="2" height="1" fill="#fff"/>
<rect x="88" y="145" width="4" height="6" fill="#fff"/>
<rect x="90" y="152" width="1" height="4" fill="#fff"/>
<rect x="86" y="143" width="2" height="1" fill="#fff"/>
<rect x="93" y="145" width="4" height="6" fill="#fff"/>
<rect x="95" y="152" width="1" height="4" fill="#fff"/>
<rect x="91" y="143" width="2" height="1" fill="#fff"/>
<rect x="99" y="145" width="4" height="6" fill="#fff"/>
<rect x="101" y="152" width="1" height="4" fill="#fff"/>
<rect x="97" y="143" width="2" height="1" fill="#fff"/>
<rect x="105" y="145" width="4" height="6" fill="#fff"/>
<rect x="107" y="151" width="1" height="5" fill="#fff"/>
<rect x="103" y="143" width="2" height="1" fill="#fff"/>
<rect x="111" y="145" width="4" height="6" fill="#fff"/>
<rect x="113" y="152" width="1" height="4" fill="#fff"/>
<rect x="109" y="143" width="2" height="1" fill="#fff"/>
<rect x="117" y="145" width="4" height="6" fill="#fff"/>
<rect x="119" y="152" width="1" height="4" fill="#fff"/>
<rect x="115" y="143" width="2" height="1" fill="#fff"/>
<rect x="123" y="145" width="4" height="6" fill="#fff"/>
<rect x="125" y="152" width="1" height="4" fill="#fff"/>
<rect x="121" y="143" width="2" height="1" fill="#fff"/>
<rect x="129" y="145" width="4" height="6" fill="#fff"/>
<rect x="131" y="152" width="1" height="4" fill="#fff"/>
<rect x="127" y="143" width="2" height="1" fill="#fff"/>
<rect x="135" y="145" width="4" height="6" fill="#fff"/>
<rect x="137" y="152" width="1" height="4" fill="#fff"/>
<rect x="133" y="143" width="2" height="1" fill="#fff"/>
<rect x="140" y="145" width="4" height="6" fill="#fff"/>
<rect x="142" y="152" width="1" height="4" fill="#fff"/>
<rect x="138" y="143" width="2" height="1" fill="#fff"/>
<rect x="146" y="145" width="4" height="6" fill="#fff"/>
<rect x="148" y="152" width="1" height="4" fill="#fff"/>
<rect x="144" y="143" width="2" height="1" fill="#fff"/>
<rect x="152" y="145" width="4" height="6" fill="#fff"/>
<rect x="154" y="152" width="1" height="4" fill="#fff"/>
<rect x="150" y="143" width="2" height="1" fill="#fff"/>
<rect x="158" y="145" width="4" height="6" fill="#fff"/>
<rect x="160" y="152" width="1" height="4" fill="#fff"/>
<rect x="156" y="143" width="2" height="1" fill="#fff"/>
<rect x="164" y="145" width="4" height="6" fill="#fff"/>
<rect x="166" y="152" width="1" height="4" fill="#fff"/>
<rect x="162" y="143" width="2" height="1" fill="#fff"/>
<rect x="170" y="145" width="4" height="6" fill="#fff"/>
<rect x="172" y="151" width="1" height="5" fill="#fff"/>
<rect x="168" y="143" width="2" height="1" fill="#fff"/>
<rect x="176" y="145" width="4" height="6" fill="#fff"/>
<rect x="178" y="152" width="1" height="4" fill="#fff"/>
<rect x="174" y="143" width="2" height="1" fill="#fff"/>
<rect x="182" y="145" width="4" height="6" fill="#fff"/>
<rect x="184" y="152" width="1" height="4" fill="#fff"/>
<rect x="180" y="143" width="2" height="1" fill="#fff"/>
<rect x="187" y="145" width="4" height="6" fill="#fff"/>
<rect x="189" y="152" width="1" height="4" fill="#fff"/>
<rect x="185" y="143" width="2" height="1" fill="#fff"/>
<rect x="193" y="145" width="4" height="6" fill="#fff"/>
<rect x="195" y="152" width="1" height="4" fill="#fff"/>
<rect x="191" y="143" width="2" height="1" fill="#fff"/>
<rect x="199" y="145" width="4" height="6" fill="#fff"/>
<rect x="201" y="152" width="1" height="4" fill="#fff"/>
<rect x="197" y="143" width="2" height="1" fill="#fff"/>
<rect x="205" y="145" width="4" height="6" fill="#fff"/>
<rect x="207" y="151" width="1" height="5" fill="#fff"/>
<rect x="203" y="143" width="2" height="1" fill="#fff"/>
<rect x="211" y="145" width="4" height="6" fill="#fff"/>
<rect x="213" y="152" width="1" height="4" fill="#fff"/>
<rect x="209" y="143" width="2" height="1" fill="#fff"/>
<rect x="217" y="145" width="4" height="6" fill="#fff"/>
<rect x="219" y="152" width="1" height="4" fill="#fff"/>
<rect x="215" y="143" width="2" height="1" fill="#fff"/>
<rect x="223" y="145" width="4" height="6" fill="#fff"/>
<rect x="225" y="152" width="1" height="4" fill="#fff"/>
<rect x="221" y="143" width="2" height="1" fill="#fff"/>
<rect x="228" y="145" width="4" height="6" fill="#fff"/>
<rect x="230" y="152" width="1" height="4" fill="#fff"/>
<rect x="226" y="143" width="2" height="1" fill="#fff"/>
<rect x="234" y="145" width="4" height="6" fill="#fff"/>
<rect x="236" y="152" width="1" height="4" fill="#fff"/>
<rect x="232" y="143" width="2" height="1" fill="#fff"/>
<rect x="41" y="159" width="227" height="1" fill="#000"/>
<rect x="41" y="161" width="8" height="1" fill="#000"/>
<rect x="41" y="168" width="8" height="1" fill="#000"/>
<rect x="41" y="187" width="8" height="1" fill="#000"/>
<rect x="41" y="194" width="8" height="1" fill="#000"/>
<rect x="260" y="162" width="8" height="1" fill="#000"/>
<rect x="260" y="169" width="8" height="1" fill="#000"/>
<rect x="260" y="187" width="8" height="1" fill="#000"/>
<rect x="260" y="194" width="8" height="1" fill="#000"/>
<rect x="49" y="159" width="4" height="17" fill="#000"/>
<rect x="50" y="161" width="1" height="14" fill="#fff"/>
<rect x="53" y="161" width="10" height="1" fill="#000"/>
<rect x="62" y="161" width="1" height="10" fill="#000"/>
<rect x="61" y="170" width="2" height="1" fill="#000"/>
<rect x="53" y="161" width="1" height="11" fill="#000"/>
<rect x="55" y="168" width="6" height="1" fill="#000"/>
<rect x="60" y="168" width="1" height="8" fill="#000"/>
<rect x="55" y="168" width="1" height="4" fill="#000"/>
<rect x="53" y="171" width="3" height="1" fill="#000"/>
<rect x="49" y="175" width="12" height="1" fill="#000"/>
<rect x="257" y="159" width="3" height="18" fill="#000"/>
<rect x="246" y="162" width="10" height="1" fill="#000"/>
<rect x="246" y="162" width="1" height="10" fill="#000"/>
<rect x="246" y="171" width="2" height="1" fill="#000"/>
<rect x="255" y="162" width="1" height="11" fill="#000"/>
<rect x="248" y="169" width="6" height="1" fill="#000"/>
<rect x="248" y="169" width="1" height="8" fill="#000"/>
<rect x="253" y="169" width="1" height="4" fill="#000"/>
<rect x="253" y="172" width="3" height="1" fill="#000"/>
<rect x="248" y="176" width="12" height="1" fill="#000"/>
<rect x="67" y="161" width="176" height="14" fill="#000"/>
<rect x="67" y="170" width="1" height="5" fill="#fff"/>
<rect x="242" y="170" width="1" height="5" fill="#fff"/>
<rect x="68" y="163" width="1" height="6" fill="#fff"/>
<rect x="241" y="163" width="1" height="6" fill="#fff"/>
<rect x="70" y="163" width="5" height="6" fill="#fff"/>
<rect x="72" y="169" width="1" height="5" fill="#fff"/>
<rect x="73" y="161" width="1" height="1" fill="#fff"/>
<rect x="76" y="163" width="4" height="6" fill="#fff"/>
<rect x="78" y="170" width="1" height="4" fill="#fff"/>
<rect x="74" y="161" width="2" height="1" fill="#fff"/>
<rect x="82" y="163" width="4" height="6" fill="#fff"/>
<rect x="84" y="170" width="1" height="4" fill="#fff"/>
<rect x="80" y="161" width="2" height="1" fill="#fff"/>
<rect x="88" y="163" width="4" height="6" fill="#fff"/>
<rect x="90" y="170" width="1" height="4" fill="#fff"/>
<rect x="86" y="161" width="2" height="1" fill="#fff"/>
<rect x="93" y="163" width="4" height="6" fill="#fff"/>
<rect x="95" y="170" width="1" height="4" fill="#fff"/>
<rect x="91" y="161" width="2" height="1" fill="#fff"/>
<rect x="99" y="163" width="4" height="6" fill="#fff"/>
<rect x="101" y="170" width="1" height="4" fill="#fff"/>
<rect x="97" y="161" width="2" height="1" fill="#fff"/>
<rect x="105" y="163" width="4" height="6" fill="#fff"/>
<rect x="107" y="169" width="1" height="5" fill="#fff"/>
<rect x="103" y="161" width="2" height="1" fill="#fff"/>
<rect x="111" y="163" width="4" height="6" fill="#fff"/>
<rect x="113" y="170" width="1" height="4" fill="#fff"/>
<rect x="109" y="161" width="2" height="1" fill="#fff"/>
<rect x="117" y="163" width="4" height="6" fill="#fff"/>
<rect x="119" y="170" width="1" height="4" fill="#fff"/>
<rect x="115" y="161" width="2" height="1" fill="#fff"/>
<rect x="123" y="163" width="4" height="6" fill="#fff"/>
<rect x="125" y="170" width="1" height="4" fill="#fff"/>
<rect x="121" y="161" width="2" height="1" fill="#fff"/>
<rect x="129" y="163" width="4" height="6" fill="#fff"/>
<rect x="131" y="170" width="1" height="4" fill="#fff"/>
<rect x="127" y="161" width="2" height="1" fill="#fff"/>
<rect x="135" y="163" width="4" height="6" fill="#fff"/>
<rect x="137" y="170" width="1" height="4" fill="#fff"/>
<rect x="133" y="161" width="2" height="1" fill="#fff"/>
<rect x="140" y="163" width="4" height="6" fill="#fff"/>
<rect x="142" y="170" width="1" height="4" fill="#fff"/>
<rect x="138" y="161" width="2" height="1" fill="#fff"/>
<rect x="146" y="163" width="4" height="6" fill="#fff"/>
<rect x="148" y="170" width="1" height="4" fill="#fff"/>
<rect x="144" y="161" width="2" height="1" fill="#fff"/>
<rect x="152" y="163" width="4" height="6" fill="#fff"/>
<rect x="154" y="170" width="1" height="4" fill="#fff"/>
<rect x="150" y="161" width="2" height="1" fill="#fff"/>
<rect x="158" y="163" width="4" height="6" fill="#fff"/>
<rect x="160" y="170" width="1" height="4" fill="#fff"/>
<rect x="156" y="161" width="2" height="1" fill="#fff"/>
<rect x="164" y="163" width="4" height="6" fill="#fff"/>
<rect x="166" y="170" width="1" height="4" fill="#fff"/>
<rect x="162" y="161" width="2" height="1" fill="#fff"/>
<rect x="170" y="163" width="4" height="6" fill="#fff"/>
<rect x="172" y="169" width="1" height="5" fill="#fff"/>
<rect x="168" y="161" width="2" height="1" fill="#fff"/>
<rect x="176" y="163" width="4" height="6" fill="#fff"/>
<rect x="178" y="170" width="1" height="4" fill="#fff"/>
<rect x="174" y="161" width="2" height="1" fill="#fff"/>
<rect x="182" y="163" width="4" height="6" fill="#fff"/>
<rect x="184" y="170" width="1" height="4" fill="#fff"/>
<rect x="180" y="161" width="2" height="1" fill="#fff"/>
<rect x="187" y="163" width="4" height="6" fill="#fff"/>
<rect x="189" y="170" width="1" height="4" fill="#fff"/>
<rect x="185" y="161" width="2" height="1" fill="#fff"/>
<rect x="193" y="163" width="4" height="6" fill="#fff"/>
<rect x="195" y="170" width="1" height="4" fill="#fff"/>
<rect x="191" y="161" width="2" height="1" fill="#fff"/>
<rect x="199" y="163" width="4" height="6" fill="#fff"/>
<rect x="201" y="170" width="1" height="4" fill="#fff"/>
<rect x="197" y="161" width="2" height="1" fill="#fff"/>
<rect x="205" y="163" width="4" height="6" fill="#fff"/>
<rect x="207" y="169" width="1" height="5" fill="#fff"/>
<rect x="203" y="161" width="2" height="1" fill="#fff"/>
<rect x="211" y="163" width="4" height="6" fill="#fff"/>
<rect x="213" y="170" width="1" height="4" fill="#fff"/>
<rect x="209" y="161" width="2" height="1" fill="#fff"/>
<rect x="217" y="163" width="4" height="6" fill="#fff"/>
<rect x="219" y="170" width="1" height="4" fill="#fff"/>
<rect x="215" y="161" width="2" height="1" fill="#fff"/>
<rect x="223" y="163" width="4" height="6" fill="#fff"/>
<rect x="225" y="170" width="1" height="4" fill="#fff"/>
<rect x="221" y="161" width="2" height="1" fill="#fff"/>
<rect x="228" y="163" width="4" height="6" fill="#fff"/>
<rect x="230" y="170" width="1" height="4" fill="#fff"/>
<rect x="226" y="161" width="2" height="1" fill="#fff"/>
<rect x="234" y="163" width="4" height="6" fill="#fff"/>
<rect x="236" y="170" width="1" height="4" fill="#fff"/>
<rect x="232" y="161" width="2" height="1" fill="#fff"/>
<rect x="49" y="177" width="15" height="1" fill="#000"/>
<rect x="49" y="183" width="15" height="1" fill="#000"/>
<rect x="49" y="177" width="1" height="7" fill="#000"/>
<rect x="63" y="177" width="1" height="7" fill="#000"/>
<rect x="67" y="177" width="31" height="1" fill="#000"/>
<rect x="67" y="183" width="31" height="1" fill="#000"/>
<rect x="67" y="177" width="1" height="7" fill="#000"/>
<rect x="97" y="177" width="1" height="7" fill="#000"/>
<rect x="102" y="177" width="32" height="1" fill="#000"/>
<rect x="102" y="183" width="32" height="1" fill="#000"/>
<rect x="102" y="177" width="1" height="7" fill="#000"/>
<rect x="133" y="177" width="1" height="7" fill="#000"/>
<rect x="176" y="177" width="32" height="1" fill="#000"/>
<rect x="176" y="183" width="32" height="1" fill="#000"/>
<rect x="176" y="177" width="1" height="7" fill="#000"/>
<rect x="207" y="177" width="1" height="7" fill="#000"/>
<rect x="213" y="177" width="32" height="1" fill="#000"/>
<rect x="213" y="183" width="32" height="1" fill="#000"/>
<rect x="213" y="177" width="1" height="7" fill="#000"/>
<rect x="244" y="177" width="1" height="7" fill="#000"/>
<rect x="247" y="177" width="15" height="1" fill="#000"/>
<rect x="247" y="183" width="15" height="1" fill="#000"/>
<rect x="247" y="177" width="1" height="7" fill="#000"/>
<rect x="261" y="177" width="1" height="7" fill="#000"/>
<rect x="49" y="182" width="4" height="17" fill="#000"/>
<rect x="50" y="184" width="1" height="14" fill="#fff"/>
<rect x="53" y="184" width="10" height="1" fill="#000"/>
<rect x="62" y="184" width="1" height="10" fill="#000"/>
<rect x="61" y="193" width="2" height="1" fill="#000"/>
<rect x="53" y="184" width="1" height="11" fill="#000"/>
<rect x="55" y="191" width="6" height="1" fill="#000"/>
<rect x="60" y="191" width="1" height="8" fill="#000"/>
<rect x="55" y="191" width="1" height="4" fill="#000"/>
<rect x="53" y="194" width="3" height="1" fill="#000"/>
<rect x="49" y="198" width="12" height="1" fill="#000"/>
<rect x="257" y="182" width="3" height="18" fill="#000"/>
<rect x="246" y="185" width="10" height="1" fill="#000"/>
<rect x="246" y="185" width="1" height="10" fill="#000"/>
<rect x="246" y="194" width="2" height="1" fill="#000"/>
<rect x="255" y="185" width="1" height="11" fill="#000"/>
<rect x="248" y="192" width="6" height="1" fill="#000"/>
<rect x="248" y="192" width="1" height="8" fill="#000"/>
<rect x="253" y="192" width="1" height="4" fill="#000"/>
<rect x="253" y="195" width="3" height="1" fill="#000"/>
<rect x="248" y="199" width="12" height="1" fill="#000"/>
<rect x="67" y="184" width="176" height="14" fill="#000"/>
<rect x="67" y="193" width="1" height="5" fill="#fff"/>
<rect x="242" y="193" width="1" height="5" fill="#fff"/>
<rect x="68" y="186" width="1" height="6" fill="#fff"/>
<rect x="241" y="186" width="1" height="6" fill="#fff"/>
<rect x="70" y="186" width="5" height="6" fill="#fff"/>
<rect x="72" y="192" width="1" height="5" fill="#fff"/>
<rect x="73" y="184" width="1" height="1" fill="#fff"/>
<rect x="76" y="186" width="4" height="6" fill="#fff"/>
<rect x="78" y="193" width="1" height="4" fill="#fff"/>
<rect x="74" y="184" width="2" height="1" fill="#fff"/>
<rect x="82" y="186" width="4" height="6" fill="#fff"/>
<rect x="84" y="193" width="1" height="4" fill="#fff"/>
<rect x="80" y="184" width="2" height="1" fill="#fff"/>
<rect x="88" y="186" width="4" height="6" fill="#fff"/>
<rect x="90" y="193" width="1" height="4" fill="#fff"/>
<rect x="86" y="184" width="2" height="1" fill="#fff"/>
<rect x="93" y="186" width="4" height="6" fill="#fff"/>
<rect x="95" y="193" width="1" height="4" fill="#fff"/>
<rect x="91" y="184" width="2" height="1" fill="#fff"/>
<rect x="99" y="186" width="4" height="6" fill="#fff"/>
<rect x="101" y="193" width="1" height="4" fill="#fff"/>
<rect x="97" y="184" width="2" height="1" fill="#fff"/>
<rect x="105" y="186" width="4" height="6" fill="#fff"/>
<rect x="107" y="192" width="1" height="5" fill="#fff"/>
<rect x="103" y="184" width="2" height="1" fill="#fff"/>
<rect x="111" y="186" width="4" height="6" fill="#fff"/>
<rect x="113" y="193" width="1" height="4" fill="#fff"/>
<rect x="109" y="184" width="2" height="1" fill="#fff"/>
<rect x="117" y="186" width="4" height="6" fill="#fff"/>
<rect x="119" y="193" width="1" height="4" fill="#fff"/>
<rect x="115" y="184" width="2" height="1" fill="#fff"/>
<rect x="123" y="186" width="4" height="6" fill="#fff"/>
<rect x="125" y="193" width="1" height="4" fill="#fff"/>
<rect x="121" y="184" width="2" height="1" fill="#fff"/>
<rect x="129" y="186" width="4" height="6" fill="#fff"/>
<rect x="131" y="193" width="1" height="4" fill="#fff"/>
<rect x="127" y="184" width="2" height="1" fill="#fff"/>
<rect x="135" y="186" width="4" height="6" fill="#fff"/>
<rect x="137" y="193" width="1" height="4" fill="#fff"/>
<rect x="133" y="184" width="2" height="1" fill="#fff"/>
<rect x="140" y="186" width="4" height="6" fill="#fff"/>
<rect x="142" y="193" width="1" height="4" fill="#fff"/>
<rect x="138" y="184" width="2" height="1" fill="#fff"/>
<rect x="146" y="186" width="4" height="6" fill="#fff"/>
<rect x="148" y="193" width="1" height="4" fill="#fff"/>
<rect x="144" y="184" width="2" height="1" fill="#fff"/>
<rect x="152" y="186" width="4" height="6" fill="#fff"/>
<rect x="154" y="193" width="1" height="4" fill="#fff"/>
<rect x="150" y="184" width="2" height="1" fill="#fff"/>
<rect x="158" y="186" width="4" height="6" fill="#fff"/>
<rect x="160" y="193" width="1" height="4" fill="#fff"/>
<rect x="156" y="184" width="2" height="1" fill="#fff"/>
<rect x="164" y="186" width="4" height="6" fill="#fff"/>
<rect x="166" y="193" width="1" height="4" fill="#fff"/>
<rect x="162" y="184" width="2" height="1" fill="#fff"/>
<rect x="170" y="186" width="4" height="6" fill="#fff"/>
<rect x="172" y="192" width="1" height="5" fill="#fff"/>
<rect x="168" y="184" width="2" height="1" fill="#fff"/>
<rect x="176" y="186" width="4" height="6" fill="#fff"/>
<rect x="178" y="193" width="1" height="4" fill="#fff"/>
<rect x="174" y="184" width="2" height="1" fill="#fff"/>
<rect x="182" y="186" width="4" height="6" fill="#fff"/>
<rect x="184" y="193" width="1" height="4" fill="#fff"/>
<rect x="180" y="184" width="2" height="1" fill="#fff"/>
<rect x="187" y="186" width="4" height="6" fill="#fff"/>
<rect x="189" y="193" width="1" height="4" fill="#fff"/>
<rect x="185" y="184" width="2" height="1" fill="#fff"/>
<rect x="193" y="186" width="4" height="6" fill="#fff"/>
<rect x="195" y="193" width="1" height="4" fill="#fff"/>
<rect x="191" y="184" width="2" height="1" fill="#fff"/>
<rect x="199" y="186" width="4" height="6" fill="#fff"/>
<rect x="201" y="193" width="1" height="4" fill="#fff"/>
<rect x="197" y="184" width="2" height="1" fill="#fff"/>
<rect x="205" y="186" width="4" height="6" fill="#fff"/>
<rect x="207" y="192" width="1" height="5" fill="#fff"/>
<rect x="203" y="184" width="2" height="1" fill="#fff"/>
<rect x="211" y="186" width="4" height="6" fill="#fff"/>
<rect x="213" y="193" width="1" height="4" fill="#fff"/>
<rect x="209" y="184" width="2" height="1" fill="#fff"/>
<rect x="217" y="186" width="4" height="6" fill="#fff"/>
<rect x="219" y="193" width="1" height="4" fill="#fff"/>
<rect x="215" y="184" width="2" height="1" fill="#fff"/>
<rect x="223" y="186" width="4" height="6" fill="#fff"/>
<rect x="225" y="193" width="1" height="4" fill="#fff"/>
<rect x="221" y="184" width="2" height="1" fill="#fff"/>
<rect x="228" y="186" width="4" height="6" fill="#fff"/>
<rect x="230" y="193" width="1" height="4" fill="#fff"/>
<rect x="226" y="184" width="2" height="1" fill="#fff"/>
<rect x="234" y="186" width="4" height="6" fill="#fff"/>
<rect x="236" y="193" width="1" height="4" fill="#fff"/>
<rect x="232" y="184" width="2" height="1" fill="#fff"/>
<rect x="41" y="199" width="227" height="1" fill="#000"/>
<polygon points="127,46 181,46 183,48 183,63 181,65 127,65 125,63 125,48" fill="#000"/>
<polygon points="128,48 180,48 181,49 181,62 180,63 128,63 127,62 127,49" fill="#fff"/>
<text transform="translate(151.5 59.5) scale(0.68 1)" font-size="14" text-anchor="middle" letter-spacing="3.0" stroke-width="0.35">BANK 3</text>
<polygon points="127,88 181,88 183,90 183,105 181,107 127,107 125,105 125,90" fill="#000"/>
<polygon points="128,90 180,90 181,91 181,104 180,105 128,105 127,104 127,91" fill="#fff"/>
<text transform="translate(151.5 101.0) scale(0.68 1)" font-size="14" text-anchor="middle" letter-spacing="3.0" stroke-width="0.35">BANK 2</text>
<polygon points="127,129 181,129 183,131 183,146 181,148 127,148 125,146 125,131" fill="#000"/>
<polygon points="128,131 180,131 181,132 181,145 180,146 128,146 127,145 127,132" fill="#fff"/>
<text transform="translate(151.5 142.0) scale(0.68 1)" font-size="14" text-anchor="middle" letter-spacing="3.0" stroke-width="0.35">BANK 1</text>
<polygon points="127,171 181,171 183,173 183,188 181,190 127,190 125,188 125,173" fill="#000"/>
<polygon points="128,173 180,173 181,174 181,187 180,188 128,188 127,187 127,174" fill="#fff"/>
<text transform="translate(151.5 184.0) scale(0.68 1)" font-size="14" text-anchor="middle" letter-spacing="3.0" stroke-width="0.35">BANK 0</text>
<rect x="26" y="117" width="14" height="6" fill="#000"/>
<rect x="27" y="118" width="1" height="4" fill="#fff"/>
<rect x="32" y="118" width="1" height="4" fill="#fff"/>
<rect x="38" y="118" width="1" height="4" fill="#fff"/>
<rect x="26" y="135" width="14" height="7" fill="#000"/>
<rect x="27" y="136" width="1" height="5" fill="#fff"/>
<rect x="32" y="136" width="1" height="5" fill="#fff"/>
<rect x="38" y="136" width="1" height="5" fill="#fff"/>
<rect x="9" y="151" width="31" height="6" fill="#000"/>
<rect x="15" y="152" width="1" height="4" fill="#fff"/>
<rect x="20" y="152" width="2" height="4" fill="#fff"/>
<rect x="26" y="152" width="2" height="4" fill="#fff"/>
<rect x="32" y="152" width="1" height="4" fill="#fff"/>
<rect x="38" y="152" width="1" height="4" fill="#fff"/>
<rect x="34" y="152" width="3" height="4" fill="#fff"/>
<rect x="35" y="153" width="2" height="1" fill="#000"/>
<rect x="14" y="162" width="26" height="1" fill="#000"/>
<rect x="14" y="168" width="26" height="1" fill="#000"/>
<rect x="14" y="162" width="1" height="7" fill="#000"/>
<rect x="39" y="162" width="1" height="7" fill="#000"/>
<rect x="15" y="163" width="18" height="4" fill="#000"/>
<rect x="20" y="163" width="1" height="4" fill="#fff"/>
<rect x="26" y="163" width="1" height="4" fill="#fff"/>
<rect x="31" y="163" width="1" height="4" fill="#fff"/>
<rect x="34" y="163" width="4" height="1" fill="#000"/>
<rect x="34" y="166" width="4" height="1" fill="#000"/>
<rect x="34" y="163" width="1" height="4" fill="#000"/>
<rect x="37" y="163" width="1" height="4" fill="#000"/>
<rect x="26" y="194" width="14" height="1" fill="#000"/>
<rect x="26" y="199" width="14" height="1" fill="#000"/>
<rect x="26" y="194" width="1" height="6" fill="#000"/>
<rect x="39" y="194" width="1" height="6" fill="#000"/>
<rect x="27" y="197" width="9" height="2" fill="#000"/>
<rect x="31" y="197" width="1" height="2" fill="#fff"/>
<polygon points="59.0,105.5 39.39,118.13 40.61,120.87 59.0,116.5" fill="#000" shape-rendering="geometricPrecision"/>
<polygon points="59,102 88,102 90,104 90,118 88,120 59,120 57,118 57,104" fill="#000"/>
<polygon points="60,105 87,105 88,106 88,117 87,118 60,118 59,117 59,106" fill="#fff"/>
<polygon points="60.0,107.7 52.35,113.97 60.0,114.3" fill="#fff" shape-rendering="geometricPrecision"/>
<text transform="translate(72.2 114.3) scale(0.68 1)" font-size="14" text-anchor="middle" letter-spacing="2.8" stroke-width="0.35">S1</text>
<polygon points="59.0,126.0 39.51,136.58 40.49,139.42 59.0,137.0" fill="#000" shape-rendering="geometricPrecision"/>
<polygon points="59,122 87,122 89,124 89,139 87,141 59,141 57,139 57,124" fill="#000"/>
<polygon points="60,124 86,124 87,125 87,137 86,138 60,138 59,137 59,125" fill="#fff"/>
<polygon points="60.0,128.2 52.35,133.78 60.0,134.8" fill="#fff" shape-rendering="geometricPrecision"/>
<text transform="translate(72.0 134.3) scale(0.68 1)" font-size="14" text-anchor="middle" letter-spacing="2.8" stroke-width="0.35">S2</text>
<polygon points="59.0,147.0 39.71,151.32 40.29,155.68 59.0,155.0" fill="#000" shape-rendering="geometricPrecision"/>
<polygon points="59,142 85,142 87,144 87,159 85,161 59,161 57,159 57,144" fill="#000"/>
<polygon points="60,144 84,144 85,145 85,156 84,157 60,157 59,156 59,145" fill="#fff"/>
<polygon points="60.0,149.2 57.1,151.25 60.0,152.8" fill="#fff" shape-rendering="geometricPrecision"/>
<text transform="translate(71.5 154.5) scale(0.68 1)" font-size="14" text-anchor="middle" letter-spacing="2.8" stroke-width="0.35">J22</text>
<polygon points="57.0,168.0 40.73,162.85 39.27,166.15 57.0,176.0" fill="#000" shape-rendering="geometricPrecision"/>
<polygon points="57,161 86,161 88,163 88,177 86,179 57,179 55,177 55,163" fill="#000"/>
<polygon points="58,163 85,163 86,164 86,175 85,176 58,176 57,175 57,164" fill="#fff"/>
<polygon points="58.0,170.2 55.3,171.25 58.0,173.8" fill="#fff" shape-rendering="geometricPrecision"/>
<text transform="translate(71.5 173.5) scale(0.68 1)" font-size="14" text-anchor="middle" letter-spacing="2.8" stroke-width="0.35">J21</text>
<polygon points="57.0,193.5 39.96,196.5 40.04,199.5 57.0,201.5" fill="#000" shape-rendering="geometricPrecision"/>
<polygon points="57,189 86,189 88,191 88,205 86,207 57,207 55,205 55,191" fill="#000"/>
<polygon points="58,191 85,191 86,192 86,203 85,204 58,204 57,203 57,192" fill="#fff"/>
<polygon points="58.0,195.7 53.6,197.6 58.0,199.3" fill="#fff" shape-rendering="geometricPrecision"/>
<text transform="translate(71.5 201.5) scale(0.68 1)" font-size="14" text-anchor="middle" letter-spacing="2.8" stroke-width="0.35">JP3</text>
<rect x="283" y="56" width="89" height="41" fill="#000"/>
<rect x="370" y="71" width="2" height="12" fill="#fff"/>
<rect x="308" y="70" width="40" height="14" fill="#fff"/>
<text transform="translate(328.2 81) scale(0.8 1)" font-size="13" text-anchor="middle" letter-spacing="1.75" stroke-width="0.2">BIOS</text>
<rect x="392" y="59" width="129" height="20" fill="#000"/>
<rect x="400" y="66" width="113" height="6" fill="#fff"/>
<rect x="392" y="103" width="129" height="20" fill="#000"/>
<rect x="400" y="110" width="113" height="6" fill="#fff"/>
<rect x="392" y="147" width="129" height="19" fill="#000"/>
<rect x="400" y="154" width="113" height="5" fill="#fff"/>
<rect x="392" y="190" width="129" height="20" fill="#000"/>
<rect x="400" y="197" width="113" height="6" fill="#fff"/>
<rect x="392" y="235" width="129" height="20" fill="#000"/>
<rect x="400" y="242" width="113" height="6" fill="#fff"/>
<rect x="392" y="279" width="129" height="20" fill="#000"/>
<rect x="400" y="286" width="113" height="6" fill="#fff"/>
<rect x="531" y="14" width="202" height="20" fill="#000"/>
<rect x="539" y="21" width="185" height="6" fill="#fff"/>
<rect x="531" y="59" width="202" height="20" fill="#000"/>
<rect x="539" y="66" width="185" height="6" fill="#fff"/>
<rect x="531" y="103" width="202" height="20" fill="#000"/>
<rect x="539" y="110" width="185" height="6" fill="#fff"/>
<rect x="531" y="147" width="202" height="19" fill="#000"/>
<rect x="539" y="154" width="185" height="5" fill="#fff"/>
<rect x="531" y="190" width="202" height="20" fill="#000"/>
<rect x="539" y="197" width="185" height="6" fill="#fff"/>
<rect x="531" y="235" width="202" height="20" fill="#000"/>
<rect x="539" y="242" width="185" height="6" fill="#fff"/>
<rect x="531" y="279" width="202" height="20" fill="#000"/>
<rect x="539" y="286" width="185" height="6" fill="#fff"/>
<text transform="translate(631 48) scale(1.0 1)" font-size="11" text-anchor="middle" letter-spacing="0.3" stroke-width="0.1">MH0032</text>
<polygon points="102,243 160,243 164,247 164,305 160,309 102,309 98,305 98,247" fill="#000"/>
<rect x="115" y="243" width="1" height="3" fill="#fff"/>
<rect x="118" y="243" width="1" height="3" fill="#fff"/>
<rect x="120" y="243" width="1" height="3" fill="#fff"/>
<rect x="132" y="243" width="1" height="3" fill="#fff"/>
<rect x="135" y="243" width="1" height="3" fill="#fff"/>
<rect x="137" y="243" width="1" height="3" fill="#fff"/>
<rect x="152" y="243" width="1" height="3" fill="#fff"/>
<rect x="155" y="243" width="1" height="3" fill="#fff"/>
<rect x="157" y="243" width="1" height="3" fill="#fff"/>
<rect x="109" y="306" width="1" height="3" fill="#fff"/>
<rect x="112" y="306" width="1" height="3" fill="#fff"/>
<rect x="114" y="306" width="1" height="3" fill="#fff"/>
<rect x="126" y="306" width="1" height="3" fill="#fff"/>
<rect x="129" y="306" width="1" height="3" fill="#fff"/>
<rect x="131" y="306" width="1" height="3" fill="#fff"/>
<rect x="143" y="306" width="1" height="3" fill="#fff"/>
<rect x="146" y="306" width="1" height="3" fill="#fff"/>
<rect x="148" y="306" width="1" height="3" fill="#fff"/>
<rect x="148" y="306" width="1" height="3" fill="#fff"/>
<rect x="151" y="306" width="1" height="3" fill="#fff"/>
<rect x="153" y="306" width="1" height="3" fill="#fff"/>
<rect x="98" y="249" width="3" height="1" fill="#fff"/>
<rect x="98" y="252" width="3" height="1" fill="#fff"/>
<rect x="98" y="255" width="3" height="1" fill="#fff"/>
<rect x="98" y="268" width="3" height="1" fill="#fff"/>
<rect x="98" y="271" width="3" height="1" fill="#fff"/>
<rect x="98" y="273" width="3" height="1" fill="#fff"/>
<rect x="98" y="285" width="3" height="1" fill="#fff"/>
<rect x="98" y="288" width="3" height="1" fill="#fff"/>
<rect x="98" y="290" width="3" height="1" fill="#fff"/>
<rect x="98" y="297" width="3" height="1" fill="#fff"/>
<rect x="98" y="300" width="3" height="1" fill="#fff"/>
<rect x="98" y="302" width="3" height="1" fill="#fff"/>
<rect x="161" y="247" width="3" height="1" fill="#fff"/>
<rect x="161" y="250" width="3" height="1" fill="#fff"/>
<rect x="161" y="253" width="3" height="1" fill="#fff"/>
<rect x="161" y="263" width="3" height="1" fill="#fff"/>
<rect x="161" y="266" width="3" height="1" fill="#fff"/>
<rect x="161" y="268" width="3" height="1" fill="#fff"/>
<rect x="161" y="280" width="3" height="1" fill="#fff"/>
<rect x="161" y="283" width="3" height="1" fill="#fff"/>
<rect x="161" y="285" width="3" height="1" fill="#fff"/>
<rect x="161" y="297" width="3" height="1" fill="#fff"/>
<rect x="161" y="300" width="3" height="1" fill="#fff"/>
<rect x="161" y="302" width="3" height="1" fill="#fff"/>
<rect x="106" y="297" width="4" height="5" fill="#fff"/>
<rect x="109" y="297" width="1" height="1" fill="#000"/>
<rect x="109" y="301" width="1" height="1" fill="#000"/>
<polygon points="237,243 295,243 299,247 299,305 295,309 237,309 233,305 233,247" fill="#000"/>
<rect x="244" y="243" width="1" height="3" fill="#fff"/>
<rect x="247" y="243" width="1" height="3" fill="#fff"/>
<rect x="249" y="243" width="1" height="3" fill="#fff"/>
<rect x="247" y="243" width="1" height="3" fill="#fff"/>
<rect x="250" y="243" width="1" height="3" fill="#fff"/>
<rect x="252" y="243" width="1" height="3" fill="#fff"/>
<rect x="261" y="243" width="1" height="3" fill="#fff"/>
<rect x="264" y="243" width="1" height="3" fill="#fff"/>
<rect x="266" y="243" width="1" height="3" fill="#fff"/>
<rect x="278" y="243" width="1" height="3" fill="#fff"/>
<rect x="281" y="243" width="1" height="3" fill="#fff"/>
<rect x="283" y="243" width="1" height="3" fill="#fff"/>
<rect x="249" y="306" width="1" height="3" fill="#fff"/>
<rect x="252" y="306" width="1" height="3" fill="#fff"/>
<rect x="254" y="306" width="1" height="3" fill="#fff"/>
<rect x="253" y="306" width="1" height="3" fill="#fff"/>
<rect x="256" y="306" width="1" height="3" fill="#fff"/>
<rect x="258" y="306" width="1" height="3" fill="#fff"/>
<rect x="266" y="306" width="1" height="3" fill="#fff"/>
<rect x="269" y="306" width="1" height="3" fill="#fff"/>
<rect x="271" y="306" width="1" height="3" fill="#fff"/>
<rect x="283" y="306" width="1" height="3" fill="#fff"/>
<rect x="286" y="306" width="1" height="3" fill="#fff"/>
<rect x="288" y="306" width="1" height="3" fill="#fff"/>
<rect x="233" y="254" width="3" height="1" fill="#fff"/>
<rect x="233" y="257" width="3" height="1" fill="#fff"/>
<rect x="233" y="259" width="3" height="1" fill="#fff"/>
<rect x="233" y="271" width="3" height="1" fill="#fff"/>
<rect x="233" y="274" width="3" height="1" fill="#fff"/>
<rect x="233" y="276" width="3" height="1" fill="#fff"/>
<rect x="233" y="288" width="3" height="1" fill="#fff"/>
<rect x="233" y="291" width="3" height="1" fill="#fff"/>
<rect x="233" y="293" width="3" height="1" fill="#fff"/>
<rect x="233" y="293" width="3" height="1" fill="#fff"/>
<rect x="233" y="296" width="3" height="1" fill="#fff"/>
<rect x="233" y="298" width="3" height="1" fill="#fff"/>
<rect x="296" y="261" width="3" height="1" fill="#fff"/>
<rect x="296" y="264" width="3" height="1" fill="#fff"/>
<rect x="296" y="266" width="3" height="1" fill="#fff"/>
<rect x="296" y="277" width="3" height="1" fill="#fff"/>
<rect x="296" y="280" width="3" height="1" fill="#fff"/>
<rect x="296" y="282" width="3" height="1" fill="#fff"/>
<rect x="296" y="295" width="3" height="1" fill="#fff"/>
<rect x="296" y="298" width="3" height="1" fill="#fff"/>
<rect x="296" y="300" width="3" height="1" fill="#fff"/>
<rect x="296" y="298" width="3" height="1" fill="#fff"/>
<rect x="296" y="301" width="3" height="1" fill="#fff"/>
<rect x="296" y="303" width="3" height="1" fill="#fff"/>
<rect x="240" y="250" width="4" height="5" fill="#fff"/>
<rect x="243" y="250" width="1" height="1" fill="#000"/>
<rect x="243" y="254" width="1" height="1" fill="#000"/>
<polygon points="45,374 114,374 114,449 40,449 40,379" fill="#000"/>
<polygon points="46,377 112,377 112,446 42,446 42,381" fill="#fff"/>
<rect x="103" y="374" width="11" height="10" fill="#000"/>
<rect x="103" y="382" width="2" height="2" fill="#fff"/>
<rect x="40" y="438" width="10" height="11" fill="#000"/>
<rect x="48" y="438" width="2" height="2" fill="#fff"/>
<rect x="103" y="438" width="11" height="11" fill="#000"/>
<rect x="103" y="438" width="2" height="2" fill="#fff"/>
<circle cx="45.5" cy="380.5" r="2.9" fill="#fff" stroke="#000" stroke-width="1.6" shape-rendering="geometricPrecision"/>
<rect x="42" y="386" width="6" height="1" fill="#000"/>
<rect x="42" y="389" width="6" height="1" fill="#000"/>
<rect x="42" y="392" width="6" height="1" fill="#000"/>
<rect x="42" y="400" width="6" height="1" fill="#000"/>
<rect x="42" y="403" width="6" height="1" fill="#000"/>
<rect x="42" y="412" width="6" height="1" fill="#000"/>
<rect x="42" y="416" width="6" height="1" fill="#000"/>
<rect x="42" y="425" width="6" height="1" fill="#000"/>
<rect x="42" y="428" width="6" height="1" fill="#000"/>
<rect x="42" y="433" width="6" height="1" fill="#000"/>
<rect x="42" y="437" width="6" height="1" fill="#000"/>
<rect x="105" y="386" width="7" height="1" fill="#000"/>
<rect x="105" y="395" width="7" height="1" fill="#000"/>
<rect x="105" y="398" width="7" height="1" fill="#000"/>
<rect x="105" y="407" width="7" height="1" fill="#000"/>
<rect x="105" y="410" width="7" height="1" fill="#000"/>
<rect x="105" y="417" width="7" height="1" fill="#000"/>
<rect x="105" y="419" width="7" height="1" fill="#000"/>
<rect x="105" y="431" width="7" height="1" fill="#000"/>
<rect x="60" y="377" width="1" height="6" fill="#000"/>
<rect x="63" y="377" width="1" height="6" fill="#000"/>
<rect x="71" y="377" width="1" height="6" fill="#000"/>
<rect x="85" y="377" width="1" height="6" fill="#000"/>
<rect x="93" y="377" width="1" height="6" fill="#000"/>
<rect x="60" y="440" width="1" height="6" fill="#000"/>
<rect x="71" y="440" width="1" height="6" fill="#000"/>
<rect x="82" y="440" width="1" height="6" fill="#000"/>
<rect x="85" y="440" width="1" height="6" fill="#000"/>
<rect x="93" y="440" width="1" height="6" fill="#000"/>
<polygon points="63,402 91,402 93,404 93,419 91,421 63,421 61,419 61,404" fill="#000"/>
<polygon points="64,404 90,404 91,405 91,418 90,419 64,419 63,418 63,405" fill="#fff"/>
<text transform="translate(77.0 415.5) scale(0.68 1)" font-size="14" text-anchor="middle" letter-spacing="2.8" stroke-width="0.35">NPU</text>
<rect x="154" y="379" width="43" height="45" fill="#000"/>
<rect x="157" y="375" width="1" height="4" fill="#000"/>
<rect x="157" y="424" width="1" height="5" fill="#000"/>
<rect x="149" y="382" width="5" height="1" fill="#000"/>
<rect x="197" y="382" width="5" height="1" fill="#000"/>
<rect x="159" y="375" width="2" height="4" fill="#000"/>
<rect x="159" y="424" width="2" height="5" fill="#000"/>
<rect x="149" y="384" width="5" height="2" fill="#000"/>
<rect x="197" y="384" width="5" height="2" fill="#000"/>
<rect x="162" y="375" width="1" height="4" fill="#000"/>
<rect x="162" y="424" width="1" height="5" fill="#000"/>
<rect x="149" y="387" width="5" height="2" fill="#000"/>
<rect x="197" y="387" width="5" height="2" fill="#000"/>
<rect x="164" y="375" width="2" height="4" fill="#000"/>
<rect x="164" y="424" width="2" height="5" fill="#000"/>
<rect x="149" y="390" width="5" height="1" fill="#000"/>
<rect x="197" y="390" width="5" height="1" fill="#000"/>
<rect x="167" y="375" width="1" height="4" fill="#000"/>
<rect x="167" y="424" width="1" height="5" fill="#000"/>
<rect x="149" y="392" width="5" height="1" fill="#000"/>
<rect x="197" y="392" width="5" height="1" fill="#000"/>
<rect x="169" y="375" width="1" height="4" fill="#000"/>
<rect x="169" y="424" width="1" height="5" fill="#000"/>
<rect x="149" y="394" width="5" height="2" fill="#000"/>
<rect x="197" y="394" width="5" height="2" fill="#000"/>
<rect x="171" y="375" width="2" height="4" fill="#000"/>
<rect x="171" y="424" width="2" height="5" fill="#000"/>
<rect x="149" y="397" width="5" height="2" fill="#000"/>
<rect x="197" y="397" width="5" height="2" fill="#000"/>
<rect x="174" y="375" width="1" height="4" fill="#000"/>
<rect x="174" y="424" width="1" height="5" fill="#000"/>
<rect x="149" y="400" width="5" height="1" fill="#000"/>
<rect x="197" y="400" width="5" height="1" fill="#000"/>
<rect x="176" y="375" width="2" height="4" fill="#000"/>
<rect x="176" y="424" width="2" height="5" fill="#000"/>
<rect x="149" y="402" width="5" height="1" fill="#000"/>
<rect x="197" y="402" width="5" height="1" fill="#000"/>
<rect x="179" y="375" width="1" height="4" fill="#000"/>
<rect x="179" y="424" width="1" height="5" fill="#000"/>
<rect x="149" y="404" width="5" height="2" fill="#000"/>
<rect x="197" y="404" width="5" height="2" fill="#000"/>
<rect x="181" y="375" width="1" height="4" fill="#000"/>
<rect x="181" y="424" width="1" height="5" fill="#000"/>
<rect x="149" y="407" width="5" height="2" fill="#000"/>
<rect x="197" y="407" width="5" height="2" fill="#000"/>
<rect x="183" y="375" width="2" height="4" fill="#000"/>
<rect x="183" y="424" width="2" height="5" fill="#000"/>
<rect x="149" y="410" width="5" height="1" fill="#000"/>
<rect x="197" y="410" width="5" height="1" fill="#000"/>
<rect x="186" y="375" width="1" height="4" fill="#000"/>
<rect x="186" y="424" width="1" height="5" fill="#000"/>
<rect x="149" y="412" width="5" height="1" fill="#000"/>
<rect x="197" y="412" width="5" height="1" fill="#000"/>
<rect x="188" y="375" width="2" height="4" fill="#000"/>
<rect x="188" y="424" width="2" height="5" fill="#000"/>
<rect x="149" y="414" width="5" height="2" fill="#000"/>
<rect x="197" y="414" width="5" height="2" fill="#000"/>
<rect x="191" y="375" width="1" height="4" fill="#000"/>
<rect x="191" y="424" width="1" height="5" fill="#000"/>
<rect x="149" y="417" width="5" height="2" fill="#000"/>
<rect x="197" y="417" width="5" height="2" fill="#000"/>
<rect x="193" y="375" width="1" height="4" fill="#000"/>
<rect x="193" y="424" width="1" height="5" fill="#000"/>
<rect x="149" y="420" width="5" height="1" fill="#000"/>
<rect x="197" y="420" width="5" height="1" fill="#000"/>
<polygon points="148,376 151,373 156,378 156,381 153,381" fill="#000"/>
<polygon points="203,376 200,373 195,378 195,381 198,381" fill="#000"/>
<polygon points="148,427 151,430 156,425 156,422 153,422" fill="#000"/>
<polygon points="203,427 200,430 195,425 195,422 198,422" fill="#000"/>
<circle cx="160" cy="385.5" r="2.8" fill="#fff" shape-rendering="auto"/>
<rect x="162" y="395" width="28" height="14" fill="#fff"/>
<text transform="translate(177.5 406) scale(0.75 1)" font-size="13" text-anchor="middle" letter-spacing="3.7" stroke-width="0.25">CPU</text>
<rect x="197" y="456" width="126" height="42" fill="#000"/>
<rect x="321" y="471" width="2" height="12" fill="#fff"/>
<rect x="199" y="496" width="3" height="1" fill="#fff"/>
<rect x="204" y="496" width="3" height="1" fill="#fff"/>
<rect x="209" y="496" width="3" height="1" fill="#fff"/>
<rect x="214" y="496" width="3" height="1" fill="#fff"/>
<rect x="219" y="496" width="3" height="1" fill="#fff"/>
<rect x="224" y="496" width="3" height="1" fill="#fff"/>
<rect x="229" y="496" width="3" height="1" fill="#fff"/>
<rect x="234" y="496" width="3" height="1" fill="#fff"/>
<rect x="239" y="496" width="3" height="1" fill="#fff"/>
<rect x="244" y="496" width="3" height="1" fill="#fff"/>
<rect x="249" y="496" width="3" height="1" fill="#fff"/>
<rect x="254" y="496" width="3" height="1" fill="#fff"/>
<rect x="259" y="496" width="3" height="1" fill="#fff"/>
<rect x="264" y="496" width="3" height="1" fill="#fff"/>
<rect x="269" y="496" width="3" height="1" fill="#fff"/>
<rect x="274" y="496" width="3" height="1" fill="#fff"/>
<rect x="279" y="496" width="3" height="1" fill="#fff"/>
<rect x="284" y="496" width="3" height="1" fill="#fff"/>
<rect x="289" y="496" width="3" height="1" fill="#fff"/>
<rect x="294" y="496" width="3" height="1" fill="#fff"/>
<rect x="299" y="496" width="3" height="1" fill="#fff"/>
<rect x="304" y="496" width="3" height="1" fill="#fff"/>
<rect x="309" y="496" width="3" height="1" fill="#fff"/>
<rect x="314" y="496" width="3" height="1" fill="#fff"/>
<rect x="319" y="496" width="3" height="1" fill="#fff"/>
<rect x="246" y="470" width="28" height="14" fill="#fff"/>
<text transform="translate(261 481) scale(0.75 1)" font-size="13" text-anchor="middle" letter-spacing="3.2" stroke-width="0.25">KBD</text>
<rect x="431" y="328" width="101" height="13" fill="#000"/>
<rect x="432" y="334" width="99" height="1" fill="#fff"/>
<rect x="432" y="339" width="99" height="1" fill="#fff"/>
<rect x="432" y="329" width="1" height="11" fill="#fff"/>
<rect x="438" y="329" width="1" height="11" fill="#fff"/>
<rect x="444" y="329" width="1" height="11" fill="#fff"/>
<rect x="449" y="329" width="1" height="11" fill="#fff"/>
<rect x="455" y="329" width="1" height="11" fill="#fff"/>
<rect x="461" y="329" width="1" height="11" fill="#fff"/>
<rect x="467" y="329" width="1" height="11" fill="#fff"/>
<rect x="473" y="329" width="1" height="11" fill="#fff"/>
<rect x="479" y="329" width="1" height="11" fill="#fff"/>
<rect x="483" y="329" width="2" height="11" fill="#fff"/>
<rect x="489" y="329" width="2" height="11" fill="#fff"/>
<rect x="495" y="329" width="2" height="11" fill="#fff"/>
<rect x="501" y="329" width="2" height="11" fill="#fff"/>
<rect x="507" y="329" width="2" height="11" fill="#fff"/>
<rect x="513" y="329" width="2" height="11" fill="#fff"/>
<rect x="518" y="329" width="2" height="11" fill="#fff"/>
<rect x="524" y="329" width="2" height="11" fill="#fff"/>
<rect x="530" y="329" width="1" height="11" fill="#fff"/>
<rect x="527" y="330" width="2" height="3" fill="#fff"/>
<rect x="514" y="377" width="49" height="13" fill="#000"/>
<rect x="515" y="383" width="47" height="1" fill="#fff"/>
<rect x="515" y="388" width="47" height="1" fill="#fff"/>
<rect x="515" y="378" width="47" height="1" fill="#fff"/>
<rect x="515" y="378" width="1" height="11" fill="#fff"/>
<rect x="520" y="378" width="2" height="11" fill="#fff"/>
<rect x="526" y="378" width="2" height="11" fill="#fff"/>
<rect x="532" y="378" width="2" height="11" fill="#fff"/>
<rect x="537" y="378" width="2" height="11" fill="#fff"/>
<rect x="543" y="378" width="2" height="11" fill="#fff"/>
<rect x="549" y="378" width="2" height="11" fill="#fff"/>
<rect x="555" y="378" width="2" height="11" fill="#fff"/>
<rect x="561" y="378" width="1" height="11" fill="#fff"/>
<rect x="558" y="379" width="2" height="3" fill="#fff"/>
<rect x="571" y="377" width="48" height="13" fill="#000"/>
<rect x="572" y="383" width="46" height="1" fill="#fff"/>
<rect x="572" y="388" width="46" height="1" fill="#fff"/>
<rect x="572" y="378" width="46" height="1" fill="#fff"/>
<rect x="572" y="378" width="1" height="11" fill="#fff"/>
<rect x="577" y="378" width="2" height="11" fill="#fff"/>
<rect x="583" y="378" width="2" height="11" fill="#fff"/>
<rect x="588" y="378" width="2" height="11" fill="#fff"/>
<rect x="594" y="378" width="2" height="11" fill="#fff"/>
<rect x="600" y="378" width="2" height="11" fill="#fff"/>
<rect x="605" y="378" width="2" height="11" fill="#fff"/>
<rect x="611" y="378" width="2" height="11" fill="#fff"/>
<rect x="617" y="378" width="1" height="11" fill="#fff"/>
<rect x="614" y="379" width="2" height="3" fill="#fff"/>
<rect x="431" y="445" width="78" height="13" fill="#000"/>
<rect x="432" y="451" width="76" height="1" fill="#fff"/>
<rect x="432" y="456" width="76" height="1" fill="#fff"/>
<rect x="432" y="446" width="1" height="11" fill="#fff"/>
<rect x="437" y="446" width="2" height="11" fill="#fff"/>
<rect x="443" y="446" width="2" height="11" fill="#fff"/>
<rect x="449" y="446" width="2" height="11" fill="#fff"/>
<rect x="454" y="446" width="2" height="11" fill="#fff"/>
<rect x="460" y="446" width="2" height="11" fill="#fff"/>
<rect x="466" y="446" width="2" height="11" fill="#fff"/>
<rect x="472" y="446" width="2" height="11" fill="#fff"/>
<rect x="478" y="446" width="2" height="11" fill="#fff"/>
<rect x="484" y="446" width="2" height="11" fill="#fff"/>
<rect x="489" y="446" width="2" height="11" fill="#fff"/>
<rect x="495" y="446" width="2" height="11" fill="#fff"/>
<rect x="501" y="446" width="2" height="11" fill="#fff"/>
<rect x="507" y="446" width="1" height="11" fill="#fff"/>
<rect x="504" y="447" width="2" height="3" fill="#fff"/>
<rect x="431" y="494" width="119" height="13" fill="#000"/>
<rect x="432" y="500" width="117" height="1" fill="#fff"/>
<rect x="432" y="505" width="117" height="1" fill="#fff"/>
<rect x="432" y="495" width="1" height="11" fill="#fff"/>
<rect x="437" y="495" width="2" height="11" fill="#fff"/>
<rect x="444" y="495" width="1" height="11" fill="#fff"/>
<rect x="449" y="495" width="2" height="11" fill="#fff"/>
<rect x="455" y="495" width="1" height="11" fill="#fff"/>
<rect x="460" y="495" width="2" height="11" fill="#fff"/>
<rect x="467" y="495" width="1" height="11" fill="#fff"/>
<rect x="472" y="495" width="2" height="11" fill="#fff"/>
<rect x="479" y="495" width="1" height="11" fill="#fff"/>
<rect x="484" y="495" width="2" height="11" fill="#fff"/>
<rect x="490" y="495" width="1" height="11" fill="#fff"/>
<rect x="495" y="495" width="2" height="11" fill="#fff"/>
<rect x="502" y="495" width="1" height="11" fill="#fff"/>
<rect x="507" y="495" width="2" height="11" fill="#fff"/>
<rect x="514" y="495" width="1" height="11" fill="#fff"/>
<rect x="519" y="495" width="2" height="11" fill="#fff"/>
<rect x="526" y="495" width="1" height="11" fill="#fff"/>
<rect x="530" y="495" width="2" height="11" fill="#fff"/>
<rect x="537" y="495" width="1" height="11" fill="#fff"/>
<rect x="542" y="495" width="2" height="11" fill="#fff"/>
<rect x="548" y="495" width="1" height="11" fill="#fff"/>
<rect x="545" y="496" width="2" height="3" fill="#fff"/>
<rect x="738" y="377" width="31" height="13" fill="#000"/>
<rect x="739" y="383" width="29" height="1" fill="#fff"/>
<rect x="739" y="378" width="1" height="11" fill="#fff"/>
<rect x="745" y="378" width="1" height="11" fill="#fff"/>
<rect x="751" y="378" width="1" height="11" fill="#fff"/>
<rect x="756" y="378" width="1" height="11" fill="#fff"/>
<rect x="762" y="378" width="1" height="11" fill="#fff"/>
<rect x="767" y="378" width="1" height="11" fill="#fff"/>
<rect x="741" y="385" width="2" height="3" fill="#fff"/>
<rect x="738" y="401" width="31" height="13" fill="#000"/>
<rect x="739" y="407" width="29" height="1" fill="#fff"/>
<rect x="739" y="402" width="1" height="11" fill="#fff"/>
<rect x="745" y="402" width="1" height="11" fill="#fff"/>
<rect x="751" y="402" width="1" height="11" fill="#fff"/>
<rect x="756" y="402" width="1" height="11" fill="#fff"/>
<rect x="762" y="402" width="1" height="11" fill="#fff"/>
<rect x="767" y="402" width="1" height="11" fill="#fff"/>
<rect x="741" y="409" width="2" height="3" fill="#fff"/>
<rect x="495" y="377" width="13" height="13" fill="#000"/>
<rect x="496" y="383" width="5" height="1" fill="#fff"/>
<rect x="502" y="383" width="5" height="1" fill="#fff"/>
<rect x="496" y="388" width="5" height="1" fill="#fff"/>
<rect x="502" y="388" width="5" height="1" fill="#fff"/>
<polygon points="552.0,330.0 533.98,333.9 534.02,335.1 552.0,338.0" fill="#000" shape-rendering="geometricPrecision"/>
<polygon points="552,325 580,325 582,327 582,342 580,344 552,344 550,342 550,327" fill="#000"/>
<polygon points="553,327 579,327 580,328 580,340 579,341 553,341 552,340 552,328" fill="#fff"/>
<polygon points="553.0,332.2 543.9,334.23 553.0,335.8" fill="#fff" shape-rendering="geometricPrecision"/>
<text transform="translate(566.0 338.0) scale(0.68 1)" font-size="14" text-anchor="middle" letter-spacing="2.8" stroke-width="0.35">P6</text>
<polygon points="495.5,363.0 497.9,375.98 499.1,376.02 502.5,363.0" fill="#000" shape-rendering="geometricPrecision"/>
<polygon points="486,347 512,347 514,349 514,364 512,366 486,366 484,364 484,349" fill="#000"/>
<polygon points="487,349 511,349 512,350 512,362 511,363 487,363 486,362 486,350" fill="#fff"/>
<polygon points="497.7,362.0 498.85,366.9 500.3,362.0" fill="#fff" shape-rendering="geometricPrecision"/>
<text transform="translate(499.0 360.0) scale(0.68 1)" font-size="14" text-anchor="middle" letter-spacing="2.8" stroke-width="0.35">W2</text>
<polygon points="501.0,404.0 503.9,391.02 505.1,390.98 509.0,404.0" fill="#000" shape-rendering="geometricPrecision"/>
<polygon points="492,402 519,402 521,404 521,419 519,421 492,421 490,419 490,404" fill="#000"/>
<polygon points="493,404 518,404 519,405 519,417 518,418 493,418 492,417 492,405" fill="#fff"/>
<polygon points="503.2,405.0 504.85,400.1 506.8,405.0" fill="#fff" shape-rendering="geometricPrecision"/>
<text transform="translate(505.5 415.0) scale(0.68 1)" font-size="14" text-anchor="middle" letter-spacing="2.8" stroke-width="0.35">W1</text>
<polygon points="545.0,410.0 537.97,391.29 539.03,390.71 553.0,410.0" fill="#000" shape-rendering="geometricPrecision"/>
<polygon points="534,408 561,408 563,410 563,425 561,427 534,427 532,425 532,410" fill="#000"/>
<polygon points="535,410 560,410 561,411 561,423 560,424 535,424 534,423 534,411" fill="#fff"/>
<polygon points="547.2,411.0 545.85,404.3 550.8,411.0" fill="#fff" shape-rendering="geometricPrecision"/>
<text transform="translate(547.5 421.0) scale(0.68 1)" font-size="14" text-anchor="middle" letter-spacing="2.8" stroke-width="0.35">P4</text>
<polygon points="590.5,358.0 593.9,375.98 595.1,376.02 599.5,358.0" fill="#000" shape-rendering="geometricPrecision"/>
<polygon points="582,342 609,342 611,344 611,359 609,361 582,361 580,359 580,344" fill="#000"/>
<polygon points="583,344 608,344 609,345 609,357 608,358 583,358 582,357 582,345" fill="#fff"/>
<polygon points="592.7,357.0 594.85,363.4 597.3,357.0" fill="#fff" shape-rendering="geometricPrecision"/>
<text transform="translate(595.5 355.0) scale(0.68 1)" font-size="14" text-anchor="middle" letter-spacing="2.8" stroke-width="0.35">P3</text>
<polygon points="752.5,243.0 758.91,264.1 760.09,263.9 759.5,243.0" fill="#000" shape-rendering="geometricPrecision"/>
<polygon points="743,227 770,227 772,229 772,244 770,246 743,246 741,244 741,229" fill="#000"/>
<polygon points="744,229 769,229 770,230 770,242 769,243 744,243 743,242 743,230" fill="#fff"/>
<polygon points="754.7,242.0 757.05,249.3 757.3,242.0" fill="#fff" shape-rendering="geometricPrecision"/>
<text transform="translate(756.5 240.0) scale(0.68 1)" font-size="14" text-anchor="middle" letter-spacing="2.8" stroke-width="0.35">JP1</text>
<polygon points="726.0,356.0 744.0,359.4 744.0,360.6 726.0,364.0" fill="#000" shape-rendering="geometricPrecision"/>
<polygon points="698,351 726,351 728,353 728,368 726,370 698,370 696,368 696,353" fill="#000"/>
<polygon points="699,353 725,353 726,354 726,366 725,367 699,367 698,366 698,354" fill="#fff"/>
<polygon points="725.0,358.2 735.0,360.0 725.0,361.8" fill="#fff" shape-rendering="geometricPrecision"/>
<text transform="translate(712.0 364.0) scale(0.68 1)" font-size="14" text-anchor="middle" letter-spacing="2.8" stroke-width="0.35">J3</text>
<polygon points="719.0,380.5 736.0,383.9 736.0,385.1 719.0,388.5" fill="#000" shape-rendering="geometricPrecision"/>
<polygon points="690,375 719,375 721,377 721,392 719,394 690,394 688,392 688,377" fill="#000"/>
<polygon points="692,378 717,378 718,379 718,391 717,392 692,392 691,391 691,379" fill="#fff"/>
<polygon points="718.0,382.7 727.5,384.5 718.0,386.3" fill="#fff" shape-rendering="geometricPrecision"/>
<text transform="translate(705.0 388.0) scale(0.68 1)" font-size="14" text-anchor="middle" letter-spacing="2.8" stroke-width="0.35">P2</text>
<polygon points="719.0,404.0 736.0,407.4 736.0,408.6 719.0,412.0" fill="#000" shape-rendering="geometricPrecision"/>
<polygon points="690,399 719,399 721,401 721,415 719,417 690,417 688,415 688,401" fill="#000"/>
<polygon points="691,401 718,401 719,402 719,413 718,414 691,414 690,413 690,402" fill="#fff"/>
<polygon points="718.0,406.2 727.5,408.0 718.0,409.8" fill="#fff" shape-rendering="geometricPrecision"/>
<text transform="translate(705.0 411.5) scale(0.68 1)" font-size="14" text-anchor="middle" letter-spacing="2.8" stroke-width="0.35">P1</text>
<polygon points="463.75,424.0 466.9,445.01 468.1,444.99 470.25,424.0" fill="#000" shape-rendering="geometricPrecision"/>
<polygon points="453,408 480,408 482,410 482,425 480,427 453,427 451,425 451,410" fill="#000"/>
<polygon points="454,410 479,410 480,411 480,423 479,424 454,424 453,423 453,411" fill="#fff"/>
<polygon points="465.95,423.0 467.15,430.3 468.05,423.0" fill="#fff" shape-rendering="geometricPrecision"/>
<text transform="translate(466.5 421.0) scale(0.68 1)" font-size="14" text-anchor="middle" letter-spacing="2.8" stroke-width="0.35">P7</text>
<polygon points="488.0,481.0 491.9,494.02 493.1,493.98 496.0,481.0" fill="#000" shape-rendering="geometricPrecision"/>
<polygon points="480,465 507,465 509,467 509,482 507,484 480,484 478,482 478,467" fill="#000"/>
<polygon points="481,467 506,467 507,468 507,480 506,481 481,481 480,480 480,468" fill="#fff"/>
<polygon points="490.2,480.0 492.15,484.9 493.8,480.0" fill="#fff" shape-rendering="geometricPrecision"/>
<text transform="translate(493.5 478.0) scale(0.68 1)" font-size="14" text-anchor="middle" letter-spacing="2.8" stroke-width="0.35">P5</text>
<polygon points="560.0,473.0 567.92,491.15 569.08,490.85 568.0,473.0" fill="#000" shape-rendering="geometricPrecision"/>
<polygon points="549,457 578,457 580,459 580,474 578,476 549,476 547,474 547,459" fill="#000"/>
<polygon points="550,459 577,459 578,460 578,472 577,473 550,473 549,472 549,460" fill="#fff"/>
<polygon points="562.2,472.0 565.35,478.4 565.8,472.0" fill="#fff" shape-rendering="geometricPrecision"/>
<text transform="translate(563.5 470.0) scale(0.68 1)" font-size="14" text-anchor="middle" letter-spacing="2.8" stroke-width="0.35">J13</text>
<polygon points="592.5,462.0 608.49,482.31 609.51,481.69 601.5,462.0" fill="#000" shape-rendering="geometricPrecision"/>
<polygon points="584,446 614,446 616,448 616,463 614,465 584,465 582,463 582,448" fill="#000"/>
<polygon points="585,448 613,448 614,449 614,461 613,462 585,462 584,461 584,449" fill="#fff"/>
<polygon points="594.7,461.0 600.6,468.0 599.3,461.0" fill="#fff" shape-rendering="geometricPrecision"/>
<text transform="translate(599.0 459.0) scale(0.68 1)" font-size="14" text-anchor="middle" letter-spacing="2.8" stroke-width="0.35">SW1</text>
<polygon points="717.5,488.0 735.3,503.22 736.7,501.78 724.5,488.0" fill="#000" shape-rendering="geometricPrecision"/>
<polygon points="707,472 734,472 736,474 736,489 734,491 707,491 705,489 705,474" fill="#000"/>
<polygon points="708,475 733,475 734,476 734,488 733,489 708,489 707,488 707,476" fill="#fff"/>
<polygon points="719.7,487.0 725.5,492.35 722.3,487.0" fill="#fff" shape-rendering="geometricPrecision"/>
<text transform="translate(720.5 486.0) scale(0.68 1)" font-size="14" text-anchor="middle" letter-spacing="2.8" stroke-width="0.35">J1</text>
<rect x="750" y="265" width="19" height="1" fill="#000"/>
<rect x="750" y="271" width="19" height="1" fill="#000"/>
<rect x="750" y="265" width="1" height="7" fill="#000"/>
<rect x="768" y="265" width="1" height="7" fill="#000"/>
<rect x="751" y="266" width="11" height="4" fill="#000"/>
<rect x="756" y="266" width="1" height="4" fill="#fff"/>
<rect x="760" y="266" width="1" height="4" fill="#fff"/>
<rect x="763" y="266" width="4" height="1" fill="#000"/>
<rect x="763" y="269" width="4" height="1" fill="#000"/>
<rect x="763" y="266" width="1" height="4" fill="#000"/>
<rect x="766" y="266" width="1" height="4" fill="#000"/>
<rect x="744" y="357" width="26" height="1" fill="#000"/>
<rect x="744" y="363" width="26" height="1" fill="#000"/>
<rect x="744" y="357" width="1" height="7" fill="#000"/>
<rect x="769" y="357" width="1" height="7" fill="#000"/>
<rect x="745" y="358" width="18" height="4" fill="#000"/>
<rect x="749" y="358" width="1" height="4" fill="#fff"/>
<rect x="755" y="358" width="1" height="4" fill="#fff"/>
<rect x="761" y="358" width="1" height="4" fill="#fff"/>
<rect x="764" y="358" width="4" height="1" fill="#000"/>
<rect x="764" y="361" width="4" height="1" fill="#000"/>
<rect x="764" y="358" width="1" height="4" fill="#000"/>
<rect x="767" y="358" width="1" height="4" fill="#000"/>
<rect x="737" y="498" width="29" height="7" fill="#000"/>
<rect x="742" y="499" width="2" height="5" fill="#fff"/>
<rect x="748" y="499" width="2" height="5" fill="#fff"/>
<rect x="754" y="499" width="1" height="5" fill="#fff"/>
<rect x="760" y="499" width="1" height="5" fill="#fff"/>
<rect x="739" y="500" width="2" height="3" fill="#fff"/>
<rect x="566" y="492" width="6" height="1" fill="#000"/>
<rect x="566" y="506" width="6" height="1" fill="#000"/>
<rect x="566" y="492" width="1" height="15" fill="#000"/>
<rect x="571" y="492" width="1" height="15" fill="#000"/>
<rect x="567" y="494" width="4" height="3" fill="#000"/>
<rect x="567" y="498" width="4" height="3" fill="#000"/>
<rect x="567" y="502" width="4" height="3" fill="#000"/>
<rect x="581" y="484" width="59" height="1" fill="#000"/>
<rect x="581" y="502" width="59" height="1" fill="#000"/>
<rect x="581" y="484" width="1" height="19" fill="#000"/>
<rect x="639" y="484" width="1" height="19" fill="#000"/>
<rect x="585" y="488" width="44" height="11" fill="#000"/>
<rect x="591" y="488" width="1" height="11" fill="#fff"/>
<rect x="598" y="488" width="1" height="11" fill="#fff"/>
<rect x="606" y="488" width="1" height="11" fill="#fff"/>
<rect x="613" y="488" width="1" height="11" fill="#fff"/>
<rect x="621" y="488" width="1" height="11" fill="#fff"/>
<rect x="629" y="488" width="1" height="11" fill="#fff"/>
<rect x="630" y="488" width="5" height="1" fill="#000"/>
<rect x="630" y="498" width="5" height="1" fill="#000"/>
<rect x="630" y="488" width="1" height="11" fill="#000"/>
<rect x="634" y="488" width="1" height="11" fill="#000"/>
<circle cx="636.5" cy="499.5" r="2" fill="#fff" stroke="#000" stroke-width="1" shape-rendering="auto"/>
<rect x="359" y="479" width="37" height="13" fill="#000"/>
<rect x="360" y="484" width="5" height="1" fill="#fff"/>
<rect x="360" y="490" width="5" height="1" fill="#fff"/>
<rect x="366" y="484" width="5" height="1" fill="#fff"/>
<rect x="366" y="490" width="5" height="1" fill="#fff"/>
<rect x="372" y="484" width="5" height="2" fill="#fff"/>
<rect x="372" y="490" width="5" height="1" fill="#fff"/>
<rect x="378" y="480" width="5" height="1" fill="#fff"/>
<rect x="378" y="484" width="5" height="1" fill="#fff"/>
<rect x="378" y="490" width="5" height="1" fill="#fff"/>
<rect x="384" y="480" width="5" height="1" fill="#fff"/>
<rect x="384" y="484" width="5" height="1" fill="#fff"/>
<rect x="384" y="490" width="5" height="1" fill="#fff"/>
<rect x="360" y="489" width="5" height="1" fill="#fff"/>
<rect x="390" y="480" width="5" height="1" fill="#fff"/>
<rect x="390" y="480" width="1" height="11" fill="#fff"/>
<rect x="390" y="485" width="4" height="1" fill="#fff"/>
<polygon points="343.5,457.0 365.03,479.37 365.97,478.63 352.5,457.0" fill="#000" shape-rendering="geometricPrecision"/>
<polygon points="334,442 359,442 361,444 361,458 359,460 334,460 332,458 332,444" fill="#000"/>
<polygon points="335,444 358,444 359,445 359,456 358,457 335,457 334,456 334,445" fill="#fff"/>
<polygon points="345.7,456.0 353.25,463.6 350.3,456.0" fill="#fff" shape-rendering="geometricPrecision"/>
<text transform="translate(346.5 454.5) scale(0.68 1)" font-size="14" text-anchor="middle" letter-spacing="2.8" stroke-width="0.35">JP2</text>
<polygon points="374.0,457.0 373.91,476.9 375.09,477.1 382.0,457.0" fill="#000" shape-rendering="geometricPrecision"/>
<polygon points="366,442 392,442 394,444 394,458 392,460 366,460 364,458 364,444" fill="#000"/>
<polygon points="367,444 391,444 392,445 392,456 391,457 367,457 366,456 366,445" fill="#fff"/>
<polygon points="376.2,456.0 376.95,463.0 379.8,456.0" fill="#fff" shape-rendering="geometricPrecision"/>
<text transform="translate(379.0 454.5) scale(0.68 1)" font-size="14" text-anchor="middle" letter-spacing="2.8" stroke-width="0.35">W6</text>
<polygon points="406.5,457.0 384.64,476.02 385.36,476.98 415.5,457.0" fill="#000" shape-rendering="geometricPrecision"/>
<polygon points="400,442 425,442 427,444 427,458 425,460 400,460 398,458 398,444" fill="#000"/>
<polygon points="401,444 424,444 425,445 425,456 424,457 401,457 400,456 400,445" fill="#fff"/>
<polygon points="408.7,456.0 403.2,462.85 413.3,456.0" fill="#fff" shape-rendering="geometricPrecision"/>
<text transform="translate(412.5 454.5) scale(0.68 1)" font-size="14" text-anchor="middle" letter-spacing="2.8" stroke-width="0.35">W4</text>
<polygon points="348.0,502.0 368.17,491.5 368.83,492.5 358.0,502.0" fill="#000" shape-rendering="geometricPrecision"/>
<polygon points="337,500 362,500 364,502 364,516 362,518 337,518 335,516 335,502" fill="#000"/>
<polygon points="338,502 361,502 362,503 362,515 361,516 338,516 337,515 337,503" fill="#fff"/>
<polygon points="350.2,503.0 356.1,500.0 355.8,503.0" fill="#fff" shape-rendering="geometricPrecision"/>
<text transform="translate(349.5 513.0) scale(0.68 1)" font-size="14" text-anchor="middle" letter-spacing="2.8" stroke-width="0.35">W7</text>
<polygon points="378.5,502.0 379.91,492.59 381.09,492.41 385.5,502.0" fill="#000" shape-rendering="geometricPrecision"/>
<polygon points="370,500 395,500 397,502 397,516 395,518 370,518 368,516 368,502" fill="#000"/>
<polygon points="371,502 394,502 395,503 395,514 394,515 371,515 370,514 370,503" fill="#fff"/>
<polygon points="380.7,503.0 381.55,499.15 383.3,503.0" fill="#fff" shape-rendering="geometricPrecision"/>
<text transform="translate(382.5 512.5) scale(0.68 1)" font-size="14" text-anchor="middle" letter-spacing="2.8" stroke-width="0.35">W5</text>
<polygon points="408.5,502.0 396.08,484.42 396.92,483.58 420.5,502.0" fill="#000" shape-rendering="geometricPrecision"/>
<polygon points="402,500 427,500 429,502 429,516 427,518 402,518 400,516 400,502" fill="#000"/>
<polygon points="403,502 426,502 427,503 427,514 426,515 403,515 402,514 402,503" fill="#fff"/>
<polygon points="410.7,503.0 410.9,498.4 418.3,503.0" fill="#fff" shape-rendering="geometricPrecision"/>
<text transform="translate(414.5 512.5) scale(0.68 1)" font-size="14" text-anchor="middle" letter-spacing="2.8" stroke-width="0.35">W3</text>
<rect x="618" y="440" width="112" height="1" fill="#000"/>
<rect x="618" y="463" width="112" height="1" fill="#000"/>
<rect x="618" y="440" width="1" height="24" fill="#000"/>
<rect x="729" y="440" width="1" height="24" fill="#000"/>
<rect x="618" y="447" width="112" height="1" fill="#000"/>
<rect x="620" y="443" width="5" height="1" fill="#000"/>
<rect x="619" y="444" width="1" height="1" fill="#000"/>
<rect x="625" y="444" width="1" height="1" fill="#000"/>
<rect x="619" y="445" width="7" height="2" fill="#000"/>
<rect x="620" y="450" width="7" height="2" fill="#000"/>
<rect x="629" y="443" width="5" height="1" fill="#000"/>
<rect x="628" y="444" width="1" height="1" fill="#000"/>
<rect x="634" y="444" width="1" height="1" fill="#000"/>
<rect x="628" y="445" width="7" height="2" fill="#000"/>
<rect x="629" y="450" width="7" height="2" fill="#000"/>
<rect x="639" y="443" width="5" height="1" fill="#000"/>
<rect x="638" y="444" width="1" height="1" fill="#000"/>
<rect x="644" y="444" width="1" height="1" fill="#000"/>
<rect x="638" y="445" width="7" height="2" fill="#000"/>
<rect x="638" y="450" width="7" height="2" fill="#000"/>
<rect x="648" y="443" width="5" height="1" fill="#000"/>
<rect x="647" y="444" width="1" height="1" fill="#000"/>
<rect x="653" y="444" width="1" height="1" fill="#000"/>
<rect x="647" y="445" width="7" height="2" fill="#000"/>
<rect x="648" y="450" width="7" height="2" fill="#000"/>
<rect x="657" y="443" width="5" height="1" fill="#000"/>
<rect x="656" y="444" width="1" height="1" fill="#000"/>
<rect x="662" y="444" width="1" height="1" fill="#000"/>
<rect x="656" y="445" width="7" height="2" fill="#000"/>
<rect x="657" y="450" width="7" height="2" fill="#000"/>
<rect x="667" y="443" width="5" height="1" fill="#000"/>
<rect x="666" y="444" width="1" height="1" fill="#000"/>
<rect x="672" y="444" width="1" height="1" fill="#000"/>
<rect x="666" y="445" width="7" height="2" fill="#000"/>
<rect x="666" y="450" width="7" height="2" fill="#000"/>
<rect x="676" y="443" width="5" height="1" fill="#000"/>
<rect x="675" y="444" width="1" height="1" fill="#000"/>
<rect x="681" y="444" width="1" height="1" fill="#000"/>
<rect x="675" y="445" width="7" height="2" fill="#000"/>
<rect x="675" y="450" width="7" height="2" fill="#000"/>
<rect x="685" y="443" width="5" height="1" fill="#000"/>
<rect x="684" y="444" width="1" height="1" fill="#000"/>
<rect x="690" y="444" width="1" height="1" fill="#000"/>
<rect x="684" y="445" width="7" height="2" fill="#000"/>
<rect x="684" y="450" width="7" height="2" fill="#000"/>
<rect x="694" y="443" width="5" height="1" fill="#000"/>
<rect x="693" y="444" width="1" height="1" fill="#000"/>
<rect x="699" y="444" width="1" height="1" fill="#000"/>
<rect x="693" y="445" width="7" height="2" fill="#000"/>
<rect x="694" y="450" width="7" height="2" fill="#000"/>
<rect x="704" y="443" width="5" height="1" fill="#000"/>
<rect x="703" y="444" width="1" height="1" fill="#000"/>
<rect x="709" y="444" width="1" height="1" fill="#000"/>
<rect x="703" y="445" width="7" height="2" fill="#000"/>
<rect x="703" y="450" width="7" height="2" fill="#000"/>
<rect x="713" y="443" width="5" height="1" fill="#000"/>
<rect x="712" y="444" width="1" height="1" fill="#000"/>
<rect x="718" y="444" width="1" height="1" fill="#000"/>
<rect x="712" y="445" width="7" height="2" fill="#000"/>
<rect x="712" y="450" width="7" height="2" fill="#000"/>
<rect x="722" y="443" width="5" height="1" fill="#000"/>
<rect x="721" y="444" width="1" height="1" fill="#000"/>
<rect x="727" y="444" width="1" height="1" fill="#000"/>
<rect x="721" y="445" width="7" height="2" fill="#000"/>
<rect x="721" y="450" width="7" height="2" fill="#000"/>
<rect x="623" y="453" width="8" height="1" fill="#000"/>
<rect x="623" y="461" width="8" height="1" fill="#000"/>
<rect x="623" y="453" width="1" height="9" fill="#000"/>
<rect x="630" y="453" width="1" height="9" fill="#000"/>
<rect x="632" y="453" width="8" height="1" fill="#000"/>
<rect x="632" y="461" width="8" height="1" fill="#000"/>
<rect x="632" y="453" width="1" height="9" fill="#000"/>
<rect x="639" y="453" width="1" height="9" fill="#000"/>
<rect x="642" y="453" width="8" height="1" fill="#000"/>
<rect x="642" y="461" width="8" height="1" fill="#000"/>
<rect x="642" y="453" width="1" height="9" fill="#000"/>
<rect x="649" y="453" width="1" height="9" fill="#000"/>
<rect x="651" y="453" width="8" height="1" fill="#000"/>
<rect x="651" y="461" width="8" height="1" fill="#000"/>
<rect x="651" y="453" width="1" height="9" fill="#000"/>
<rect x="658" y="453" width="1" height="9" fill="#000"/>
<rect x="661" y="453" width="8" height="1" fill="#000"/>
<rect x="661" y="461" width="8" height="1" fill="#000"/>
<rect x="661" y="453" width="1" height="9" fill="#000"/>
<rect x="668" y="453" width="1" height="9" fill="#000"/>
<rect x="670" y="453" width="8" height="1" fill="#000"/>
<rect x="670" y="461" width="8" height="1" fill="#000"/>
<rect x="670" y="453" width="1" height="9" fill="#000"/>
<rect x="677" y="453" width="1" height="9" fill="#000"/>
<rect x="680" y="453" width="8" height="1" fill="#000"/>
<rect x="680" y="461" width="8" height="1" fill="#000"/>
<rect x="680" y="453" width="1" height="9" fill="#000"/>
<rect x="687" y="453" width="1" height="9" fill="#000"/>
<rect x="689" y="453" width="8" height="1" fill="#000"/>
<rect x="689" y="461" width="8" height="1" fill="#000"/>
<rect x="689" y="453" width="1" height="9" fill="#000"/>
<rect x="696" y="453" width="1" height="9" fill="#000"/>
<rect x="698" y="453" width="8" height="1" fill="#000"/>
<rect x="698" y="461" width="8" height="1" fill="#000"/>
<rect x="698" y="453" width="1" height="9" fill="#000"/>
<rect x="705" y="453" width="1" height="9" fill="#000"/>
<rect x="708" y="453" width="8" height="1" fill="#000"/>
<rect x="708" y="461" width="8" height="1" fill="#000"/>
<rect x="708" y="453" width="1" height="9" fill="#000"/>
<rect x="715" y="453" width="1" height="9" fill="#000"/>
<rect x="717" y="453" width="8" height="1" fill="#000"/>
<rect x="717" y="461" width="8" height="1" fill="#000"/>
<rect x="717" y="453" width="1" height="9" fill="#000"/>
<rect x="724" y="453" width="1" height="9" fill="#000"/>
<rect x="618" y="454" width="3" height="1" fill="#000"/>
<rect x="618" y="460" width="3" height="1" fill="#000"/>
<rect x="619" y="456" width="1" height="3" fill="#fff"/>
<rect x="620" y="456" width="1" height="1" fill="#000"/>
<rect x="727" y="454" width="3" height="1" fill="#000"/>
<rect x="727" y="460" width="3" height="1" fill="#000"/>
<g transform="translate(-1,0)"><path d="M652.5,488 L654,486.5 L656,485.5 L659,485.5 L661,487.5 L668,487.5 L670,485.5 L673,485.5 L675,487.5 L682,487.5 L684,485.5 L688,485.5 L690,486.5 L692.5,488 L692.5,509 L690,511 L688,512.5 L685,512.5 L683,510.5 L675,510.5 L673,512.5 L670,512.5 L668,510.5 L661,510.5 L659,512.5 L656,512.5 L654,511 L652.5,509 Z" fill="url(#dots)" stroke="#000" stroke-width="1"/></g>
<rect x="747" y="436" width="31" height="37" fill="#000"/>
<rect x="771" y="431" width="7" height="47" fill="#000"/>
<rect x="774" y="429" width="4" height="52" fill="#000"/>
<rect x="740" y="444" width="5" height="1" fill="#000"/>
<rect x="740" y="452" width="5" height="1" fill="#000"/>
<rect x="740" y="444" width="1" height="9" fill="#000"/>
<rect x="744" y="444" width="1" height="9" fill="#000"/>
<rect x="740" y="456" width="5" height="1" fill="#000"/>
<rect x="740" y="464" width="5" height="1" fill="#000"/>
<rect x="740" y="456" width="1" height="9" fill="#000"/>
<rect x="744" y="456" width="1" height="9" fill="#000"/>
<rect x="744" y="442" width="4" height="1" fill="#000"/>
<rect x="744" y="466" width="4" height="1" fill="#000"/>
<rect x="744" y="442" width="1" height="25" fill="#000"/>
<rect x="747" y="442" width="1" height="25" fill="#000"/>
<rect x="746" y="445" width="2" height="1" fill="#000"/>
<rect x="746" y="447" width="2" height="1" fill="#000"/>
<rect x="746" y="449" width="2" height="1" fill="#000"/>
<rect x="746" y="459" width="2" height="1" fill="#000"/>
<rect x="746" y="461" width="2" height="1" fill="#000"/>
<rect x="746" y="463" width="2" height="1" fill="#000"/>
</svg>
</body></html>
